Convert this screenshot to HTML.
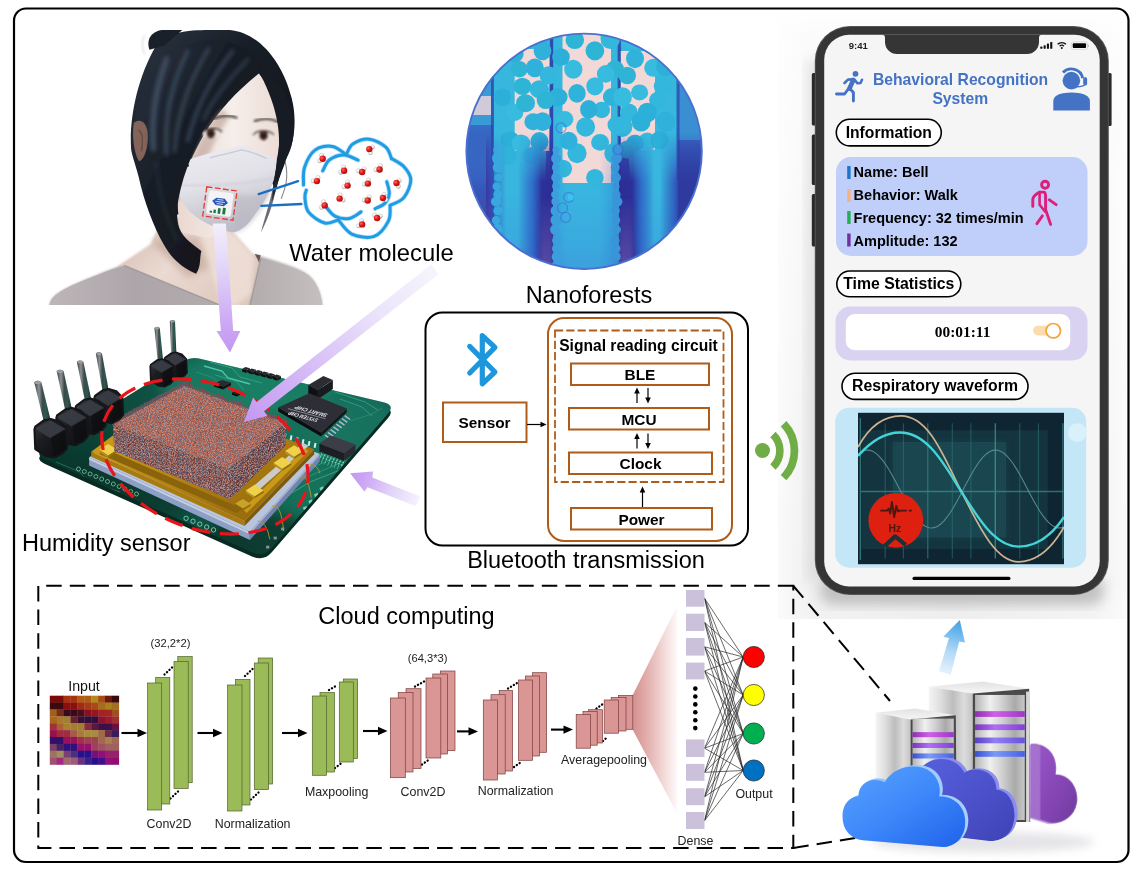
<!DOCTYPE html>
<html><head><meta charset="utf-8"><title>Figure</title>
<style>
html,body{margin:0;padding:0;background:#fff;width:1138px;height:876px;overflow:hidden}
svg{display:block}
text{font-family:"Liberation Sans",sans-serif;fill:#000}
.b{font-weight:bold}
.lbl{font-size:23.5px}
.sm{font-size:12.3px;fill:#222}
</style></head><body>
<svg width="1138" height="876" viewBox="0 0 1138 876">
<defs>
  <linearGradient id="shH" x1="0" x2="1" y1="0" y2="0">
    <stop offset="0" stop-color="#fafafa"/><stop offset="0.10" stop-color="#eeeeee"/><stop offset="0.5" stop-color="#e9e9e9"/><stop offset="0.9" stop-color="#f0f0f0"/><stop offset="1" stop-color="#fbfbfb"/>
  </linearGradient>
  <linearGradient id="shV" x1="0" x2="0" y1="0" y2="1">
    <stop offset="0" stop-color="#fff" stop-opacity="1"/><stop offset="0.05" stop-color="#fff" stop-opacity="0.75"/><stop offset="0.5" stop-color="#fff" stop-opacity="0.35"/><stop offset="0.93" stop-color="#fff" stop-opacity="0"/><stop offset="1" stop-color="#fff" stop-opacity="0.25"/>
  </linearGradient>
  <filter id="blur6" x="-20%" y="-20%" width="140%" height="140%"><feGaussianBlur stdDeviation="6"/></filter>
  <filter id="blur3" x="-20%" y="-20%" width="140%" height="140%"><feGaussianBlur stdDeviation="3"/></filter>
  <filter id="blur2" x="-20%" y="-20%" width="140%" height="140%"><feGaussianBlur stdDeviation="2"/></filter>
  <filter id="blur1" x="-20%" y="-20%" width="140%" height="140%"><feGaussianBlur stdDeviation="1"/></filter>
  <filter id="blur05" x="-20%" y="-20%" width="140%" height="140%"><feGaussianBlur stdDeviation="0.5"/></filter>
</defs>
<rect x="0" y="0" width="1138" height="876" fill="#fff"/>
<!-- phone shadow backdrop -->
<g id="phoneShadow">
  <rect x="778" y="9" width="351" height="610" fill="url(#shH)"/>
  <rect x="778" y="9" width="351" height="610" fill="url(#shV)"/>
</g>
<!-- woman with mask (approximation of rendered photo) -->
<g id="woman">
  <defs>
    <clipPath id="wClip"><rect x="20" y="0" width="1060" height="1044"/></clipPath>
    <linearGradient id="hairG" x1="0" x2="1" y1="0" y2="1"><stop offset="0" stop-color="#2c3644"/><stop offset="0.4" stop-color="#181e27"/><stop offset="1" stop-color="#0f1216"/></linearGradient>
    <linearGradient id="maskG" x1="0" x2="0.3" y1="0" y2="1"><stop offset="0" stop-color="#eeedf2"/><stop offset="0.5" stop-color="#e2e1e8"/><stop offset="1" stop-color="#bfbec8"/></linearGradient>
    <linearGradient id="skinG" x1="0" x2="1" y1="0" y2="0"><stop offset="0" stop-color="#e9d8d0"/><stop offset="0.55" stop-color="#f6eeea"/><stop offset="1" stop-color="#ecdcd5"/></linearGradient>
    <linearGradient id="chestG" x1="0" x2="1" y1="0" y2="0.6"><stop offset="0" stop-color="#d2b6aa"/><stop offset="0.5" stop-color="#eadad2"/><stop offset="1" stop-color="#dfc9be"/></linearGradient>
    <linearGradient id="garL" x1="0" x2="1" y1="0" y2="0"><stop offset="0" stop-color="#bdb6b9"/><stop offset="0.5" stop-color="#ada5a9"/><stop offset="1" stop-color="#b3acae"/></linearGradient>
    <linearGradient id="garR" x1="0" x2="1" y1="0" y2="0"><stop offset="0" stop-color="#b3acac"/><stop offset="1" stop-color="#c5bfbf"/></linearGradient>
    <filter id="wb4" x="-10%" y="-10%" width="120%" height="120%"><feGaussianBlur stdDeviation="4"/></filter><filter id="wb2" x="-10%" y="-10%" width="120%" height="120%"><feGaussianBlur stdDeviation="2.2"/></filter>
    <filter id="wb8" x="-10%" y="-10%" width="120%" height="120%"><feGaussianBlur stdDeviation="8"/></filter>
    <filter id="wb14" x="-20%" y="-20%" width="140%" height="140%"><feGaussianBlur stdDeviation="14"/></filter>
  </defs>
  <g transform="translate(40,30) scale(0.26364)" clip-path="url(#wClip)">
    <!-- garment -->
    <path d="M35 1046 C40 1014 60 999 120 969 C200 934 280 904 340 879 L480 860 L700 1046 Z" fill="url(#garL)" filter="url(#wb4)"/>
    <path d="M810 850 C900 879 980 899 1020 929 C1050 954 1068 999 1072 1046 L760 1046 Z" fill="url(#garR)" filter="url(#wb4)"/>
    <!-- chest / neck skin -->
    <path d="M300 892 L420 812 L470 700 L700 740 L742 776 L815 858 L835 864 L792 1046 L682 1046 Z" fill="url(#chestG)" filter="url(#wb4)"/>
    <path d="M600 760 L730 772 L812 862 L800 1000 L740 1046 L690 1046 Z" fill="#efe0d8" opacity="0.8" filter="url(#wb8)"/>
    <path d="M420 800 L600 780 L640 900 L560 940 Z" fill="#b89888" opacity="0.55" filter="url(#wb14)"/>
    <!-- garment collar overlay -->
    <path d="M35 1046 C40 1014 60 999 120 969 C200 934 260 912 320 893 L690 1046 Z" fill="url(#garL)"/>
    <path d="M838 865 C900 884 980 902 1020 932 C1050 957 1068 1000 1072 1046 L796 1046 Z" fill="url(#garR)"/>
    <path d="M320 893 L690 1046" stroke="#8d8588" stroke-width="5" fill="none" opacity="0.6"/>
    <path d="M838 865 L796 1046" stroke="#8d8588" stroke-width="5" fill="none" opacity="0.5"/>
    <path d="M815 850 l22 4 l-6 28 z" fill="#4a3a38" opacity="0.8"/>
    <!-- back hair -->
    <path d="M345 440 C340 330 370 180 440 60 C470 10 560 0 640 0 L720 0 C830 10 920 120 955 260 C975 340 965 420 940 470 C925 520 912 548 903 575 L893 605 L870 560 L800 700 L540 700 L470 700 C440 780 400 650 380 560 C365 500 350 470 345 440 Z" fill="url(#hairG)"/>
    <!-- bun -->
    <path d="M415 75 C400 30 430 0 470 0 L540 0 L470 60 Z" fill="#1a2029"/>
    <!-- ear -->
    <!-- face skin -->
    <path d="M520 640 C540 560 580 470 620 400 C680 300 760 220 830 165 C880 220 905 300 908 380 C910 450 898 500 885 540 L815 690 L640 790 L530 765 Z" fill="url(#skinG)"/>
    <path d="M520 640 C540 560 580 470 620 400 C640 365 660 335 690 300 L720 330 C670 400 620 500 590 640 Z" fill="#b89a90" opacity="0.55" filter="url(#wb8)"/>
    <!-- eyebrows -->
    <path d="M655 338 C690 322 720 322 745 332" stroke="#3b3433" stroke-width="9" fill="none" stroke-linecap="round" opacity="0.85" filter="url(#wb4)"/>
    <path d="M815 345 C850 333 880 335 903 350" stroke="#3b3433" stroke-width="9" fill="none" stroke-linecap="round" opacity="0.85" filter="url(#wb4)"/>
    <!-- eyes -->
    <g filter="url(#wb4)">
      <ellipse cx="652" cy="393" rx="36" ry="17" fill="#f1e4e0"/>
      <ellipse cx="846" cy="401" rx="36" ry="17" fill="#f1e4e0"/>
      <path d="M612 392 C630 370 672 368 690 388" stroke="#3a2c2a" stroke-width="6" fill="none"/>
      <path d="M808 398 C826 378 868 378 886 398" stroke="#3a2c2a" stroke-width="6" fill="none"/>
      <circle cx="648" cy="393" r="18" fill="#4a3228"/>
      <circle cx="848" cy="401" r="18" fill="#4a3228"/>
      <circle cx="648" cy="393" r="8" fill="#1e1412"/>
      <circle cx="848" cy="401" r="8" fill="#1e1412"/>
    </g>
    <!-- mask -->
    <path d="M565 492 C620 470 700 455 760 438 C800 445 850 465 897 492 C900 550 875 625 815 700 C790 740 758 766 730 768 C690 760 620 735 575 695 C535 660 515 610 530 570 C540 540 550 515 565 492 Z" fill="url(#maskG)"/>
    <path d="M530 590 C640 590 760 590 890 560" stroke="#cfced8" stroke-width="8" fill="none" opacity="0.7" filter="url(#wb4)"/>
    <path d="M645 485 C700 470 740 462 765 455 C800 462 830 472 860 488" stroke="#c8c7d0" stroke-width="5" fill="none" opacity="0.9"/>
    <path d="M740 620 C800 640 850 620 880 600 C862 655 822 712 785 746 C758 764 740 768 732 768 Z" fill="#b7b6c2" opacity="0.55" filter="url(#wb8)"/>
    <circle cx="560" cy="514" r="5" fill="#222"/>
    <!-- sensor patch on mask -->
    <g transform="rotate(8 682 660)">
      <rect x="624" y="602" width="116" height="112" fill="none" stroke="#e53a32" stroke-width="5" stroke-dasharray="22 9"/>
      <rect x="634" y="612" width="96" height="92" rx="10" fill="#f4f4f6" stroke="#d5d5da" stroke-width="2"/>
      <path d="M652 652 l14 -14 h32 l14 14 l-14 14 h-32z" fill="#2a56b8"/>
      <path d="M664 652 h36 M670 644 h24 M670 660 h24" stroke="#e9eefb" stroke-width="3"/>
      <rect x="648" y="690" width="9" height="7" fill="#1f7a3a"/>
      <rect x="662" y="684" width="9" height="13" fill="#1f7a3a"/>
      <rect x="678" y="676" width="10" height="21" fill="#1f7a3a"/>
      <rect x="696" y="672" width="11" height="25" fill="#1f7a3a"/>
    </g>
    <!-- front hair lock -->
    <path d="M345 440 C350 300 420 100 600 40 C700 20 800 60 838 140 C815 185 722 240 662 310 C612 380 576 470 545 560 C522 640 512 700 528 750 C545 795 585 815 612 838 C604 870 612 895 592 925 C545 905 500 870 470 815 C430 745 395 650 375 560 C360 500 345 470 345 440 Z" fill="url(#hairG)" filter="url(#wb2)"/>
    <!-- ear (in front of hair) -->
    <path d="M356 352 C378 334 402 348 408 384 C413 436 398 492 376 498 C356 470 348 396 356 352 Z" fill="#846358" filter="url(#wb2)"/>
    <path d="M372 380 C388 384 394 420 384 460" stroke="#5e443c" stroke-width="6" fill="none" opacity="0.7" filter="url(#wb2)"/>
    <!-- hair highlights -->
    <g fill="none" stroke="#46566c" stroke-linecap="round" opacity="0.8" filter="url(#wb8)">
      <path d="M480 110 C440 220 420 330 430 450" stroke-width="22"/>
      <path d="M560 80 C500 200 470 330 480 470" stroke-width="14"/>
      <path d="M640 70 C560 200 520 330 510 460" stroke-width="12"/>
      <path d="M730 80 C650 180 590 300 560 420" stroke-width="12"/>
      <path d="M790 110 C720 180 650 270 620 340" stroke-width="9"/>
      <path d="M440 500 C450 620 480 720 520 800" stroke-width="6" opacity="0.6"/>
    </g>
    <!-- right hair -->
    <path d="M836 140 C902 180 952 260 962 350 C967 420 947 470 927 500 C917 530 907 560 897 600 L880 650 C885 580 895 520 905 470 C912 400 905 300 836 170 Z" fill="#171c24"/>
    <path d="M900 570 C893 630 873 700 838 768 C856 700 876 640 886 585 Z" fill="#2a2f38" opacity="0.7" filter="url(#wb2)"/>
    <path d="M930 500 C945 560 930 600 915 640" stroke="#2a2f38" stroke-width="4" fill="none" opacity="0.6"/>
    <!-- soft white fringe at hair outer edge -->
    <path d="M398 20 C380 50 388 80 400 95" stroke="#c9ccd2" stroke-width="4" fill="none" opacity="0.8" filter="url(#wb4)"/>
  </g>
  <rect x="48" y="305" width="276" height="4" fill="#fff"/>
</g>
<!-- water molecule cloud -->
<g id="wcloud">
<defs><radialGradient id="redO" cx="0.35" cy="0.35" r="0.7"><stop offset="0" stop-color="#ff6a5a"/><stop offset="0.5" stop-color="#e01818"/><stop offset="1" stop-color="#a80c0c"/></radialGradient>
<radialGradient id="whH" cx="0.4" cy="0.35" r="0.7"><stop offset="0" stop-color="#ffffff"/><stop offset="0.6" stop-color="#eeeeee"/><stop offset="1" stop-color="#9a9a9a"/></radialGradient></defs>
<line x1="258.7" y1="194.1" x2="298.1" y2="181.1" stroke="#1a6fc2" stroke-width="2.3" stroke-linecap="round"/>
<line x1="261.3" y1="205.9" x2="301.4" y2="204" stroke="#1a6fc2" stroke-width="2.3" stroke-linecap="round"/>
<g fill="none" stroke="#7cc6f2" stroke-width="4.6" stroke-linecap="round" opacity="0.55" filter="url(#blur05)">
<path d="M303.5 185.0 C303.7 182.1 302.6 173.3 304.5 167.5 C306.4 161.7 310.3 153.6 315.0 150.1 C319.6 146.5 327.3 145.6 332.4 146.4 C337.6 147.1 343.8 153.2 346.0 154.5"/>
<path d="M346.4 154.5 C347.5 152.8 349.0 146.6 352.8 144.1 C356.6 141.5 363.8 138.7 369.3 139.2 C374.8 139.7 382.1 143.9 385.8 147.2 C389.5 150.4 390.6 156.9 391.6 158.8"/>
<path d="M392.0 158.8 C394.0 160.1 400.7 163.0 403.8 166.6 C407.0 170.1 410.8 175.0 410.8 180.1 C410.8 185.3 407.3 193.4 403.8 197.6 C400.4 201.8 392.4 204.1 390.1 205.4"/>
<path d="M390.1 205.4 C389.8 207.9 391.2 215.7 388.5 220.9 C385.9 226.0 380.3 234.2 374.2 236.4 C368.0 238.6 357.8 236.8 351.8 234.1 C345.9 231.3 340.5 222.3 338.3 219.9"/>
<path d="M338.3 219.9 C336.0 220.4 329.6 224.3 324.7 223.0 C319.7 221.7 311.9 216.4 308.6 212.1 C305.3 207.9 305.3 201.2 304.9 197.6 C304.5 193.9 306.0 191.5 306.3 190.2"/>
<path d="M322.7 170.8 C323.9 169.0 326.0 162.4 329.5 159.8 C333.1 157.1 339.3 154.9 344.1 154.9 C348.8 155.0 355.7 159.3 358.1 160.2"/>
<path d="M386.8 181.7 C387.2 183.7 389.6 190.1 389.3 193.7 C389.0 197.3 387.2 200.9 384.8 203.4 C382.5 205.9 376.7 207.8 375.1 208.7"/>
<path d="M326.6 207.7 C328.1 209.1 331.6 214.6 335.4 216.4 C339.1 218.2 345.1 219.1 349.3 218.4 C353.6 217.6 359.0 213.0 361.0 211.9"/>
</g>
<g fill="none" stroke="#1f9ce3" stroke-width="3" stroke-linecap="round">
<path d="M303.5 185.0 C303.7 182.1 302.6 173.3 304.5 167.5 C306.4 161.7 310.3 153.6 315.0 150.1 C319.6 146.5 327.3 145.6 332.4 146.4 C337.6 147.1 343.8 153.2 346.0 154.5"/>
<path d="M346.4 154.5 C347.5 152.8 349.0 146.6 352.8 144.1 C356.6 141.5 363.8 138.7 369.3 139.2 C374.8 139.7 382.1 143.9 385.8 147.2 C389.5 150.4 390.6 156.9 391.6 158.8"/>
<path d="M392.0 158.8 C394.0 160.1 400.7 163.0 403.8 166.6 C407.0 170.1 410.8 175.0 410.8 180.1 C410.8 185.3 407.3 193.4 403.8 197.6 C400.4 201.8 392.4 204.1 390.1 205.4"/>
<path d="M390.1 205.4 C389.8 207.9 391.2 215.7 388.5 220.9 C385.9 226.0 380.3 234.2 374.2 236.4 C368.0 238.6 357.8 236.8 351.8 234.1 C345.9 231.3 340.5 222.3 338.3 219.9"/>
<path d="M338.3 219.9 C336.0 220.4 329.6 224.3 324.7 223.0 C319.7 221.7 311.9 216.4 308.6 212.1 C305.3 207.9 305.3 201.2 304.9 197.6 C304.5 193.9 306.0 191.5 306.3 190.2"/>
<path d="M322.7 170.8 C323.9 169.0 326.0 162.4 329.5 159.8 C333.1 157.1 339.3 154.9 344.1 154.9 C348.8 155.0 355.7 159.3 358.1 160.2"/>
<path d="M386.8 181.7 C387.2 183.7 389.6 190.1 389.3 193.7 C389.0 197.3 387.2 200.9 384.8 203.4 C382.5 205.9 376.7 207.8 375.1 208.7"/>
<path d="M326.6 207.7 C328.1 209.1 331.6 214.6 335.4 216.4 C339.1 218.2 345.1 219.1 349.3 218.4 C353.6 217.6 359.0 213.0 361.0 211.9"/>
</g>
<circle cx="319.6" cy="160.8" r="2.2" fill="url(#whH)" stroke="#8a8a8a" stroke-width="0.25"/>
<circle cx="321.6" cy="155.3" r="2.2" fill="url(#whH)" stroke="#8a8a8a" stroke-width="0.25"/>
<circle cx="322.7" cy="158.8" r="3.2" fill="url(#redO)"/>
<circle cx="372.4" cy="147.1" r="2.2" fill="url(#whH)" stroke="#8a8a8a" stroke-width="0.25"/>
<circle cx="370.4" cy="152.6" r="2.2" fill="url(#whH)" stroke="#8a8a8a" stroke-width="0.25"/>
<circle cx="369.3" cy="149.1" r="3.2" fill="url(#redO)"/>
<circle cx="340.7" cy="172.2" r="2.2" fill="url(#whH)" stroke="#8a8a8a" stroke-width="0.25"/>
<circle cx="343.6" cy="167.2" r="2.2" fill="url(#whH)" stroke="#8a8a8a" stroke-width="0.25"/>
<circle cx="344.1" cy="170.8" r="3.2" fill="url(#redO)"/>
<circle cx="358.6" cy="170.8" r="2.2" fill="url(#whH)" stroke="#8a8a8a" stroke-width="0.25"/>
<circle cx="364.1" cy="168.9" r="2.2" fill="url(#whH)" stroke="#8a8a8a" stroke-width="0.25"/>
<circle cx="362.1" cy="172.0" r="3.2" fill="url(#redO)"/>
<circle cx="375.9" cy="169.6" r="2.2" fill="url(#whH)" stroke="#8a8a8a" stroke-width="0.25"/>
<circle cx="380.4" cy="165.8" r="2.2" fill="url(#whH)" stroke="#8a8a8a" stroke-width="0.25"/>
<circle cx="379.6" cy="169.5" r="3.2" fill="url(#redO)"/>
<circle cx="313.2" cy="180.9" r="2.2" fill="url(#whH)" stroke="#8a8a8a" stroke-width="0.25"/>
<circle cx="318.0" cy="177.6" r="2.2" fill="url(#whH)" stroke="#8a8a8a" stroke-width="0.25"/>
<circle cx="316.9" cy="181.1" r="3.2" fill="url(#redO)"/>
<circle cx="344.0" cy="186.6" r="2.2" fill="url(#whH)" stroke="#8a8a8a" stroke-width="0.25"/>
<circle cx="347.4" cy="181.9" r="2.2" fill="url(#whH)" stroke="#8a8a8a" stroke-width="0.25"/>
<circle cx="347.6" cy="185.6" r="3.2" fill="url(#redO)"/>
<circle cx="364.3" cy="184.1" r="2.2" fill="url(#whH)" stroke="#8a8a8a" stroke-width="0.25"/>
<circle cx="368.4" cy="180.0" r="2.2" fill="url(#whH)" stroke="#8a8a8a" stroke-width="0.25"/>
<circle cx="367.9" cy="183.6" r="3.2" fill="url(#redO)"/>
<circle cx="399.2" cy="180.6" r="2.2" fill="url(#whH)" stroke="#8a8a8a" stroke-width="0.25"/>
<circle cx="398.2" cy="186.3" r="2.2" fill="url(#whH)" stroke="#8a8a8a" stroke-width="0.25"/>
<circle cx="396.5" cy="183.0" r="3.2" fill="url(#redO)"/>
<circle cx="340.1" cy="194.9" r="2.2" fill="url(#whH)" stroke="#8a8a8a" stroke-width="0.25"/>
<circle cx="343.1" cy="200.0" r="2.2" fill="url(#whH)" stroke="#8a8a8a" stroke-width="0.25"/>
<circle cx="339.6" cy="198.6" r="3.2" fill="url(#redO)"/>
<circle cx="364.1" cy="200.0" r="2.2" fill="url(#whH)" stroke="#8a8a8a" stroke-width="0.25"/>
<circle cx="369.1" cy="197.1" r="2.2" fill="url(#whH)" stroke="#8a8a8a" stroke-width="0.25"/>
<circle cx="367.7" cy="200.5" r="3.2" fill="url(#redO)"/>
<circle cx="384.0" cy="194.5" r="2.2" fill="url(#whH)" stroke="#8a8a8a" stroke-width="0.25"/>
<circle cx="386.0" cy="199.9" r="2.2" fill="url(#whH)" stroke="#8a8a8a" stroke-width="0.25"/>
<circle cx="382.9" cy="198.0" r="3.2" fill="url(#redO)"/>
<circle cx="321.5" cy="207.3" r="2.2" fill="url(#whH)" stroke="#8a8a8a" stroke-width="0.25"/>
<circle cx="323.5" cy="201.8" r="2.2" fill="url(#whH)" stroke="#8a8a8a" stroke-width="0.25"/>
<circle cx="324.7" cy="205.4" r="3.2" fill="url(#redO)"/>
<circle cx="374.6" cy="215.2" r="2.2" fill="url(#whH)" stroke="#8a8a8a" stroke-width="0.25"/>
<circle cx="380.3" cy="216.2" r="2.2" fill="url(#whH)" stroke="#8a8a8a" stroke-width="0.25"/>
<circle cx="377.1" cy="218.0" r="3.2" fill="url(#redO)"/>
<circle cx="358.7" cy="225.8" r="2.2" fill="url(#whH)" stroke="#8a8a8a" stroke-width="0.25"/>
<circle cx="361.6" cy="220.7" r="2.2" fill="url(#whH)" stroke="#8a8a8a" stroke-width="0.25"/>
<circle cx="362.1" cy="224.4" r="3.2" fill="url(#redO)"/>
<text x="371.5" y="261.2" text-anchor="middle" class="lbl" style="font-size:23.8px">Water molecule</text>
</g>
<!-- nanoforests circle -->
<g id="nano">
<defs>
<clipPath id="nanoClip"><circle cx="584.1" cy="151.3" r="117.6"/></clipPath>
<linearGradient id="nbg" x1="0" x2="0" y1="0" y2="1"><stop offset="0" stop-color="#3d93d8"/><stop offset="0.3" stop-color="#3a7ccf"/><stop offset="0.5" stop-color="#3558bb"/><stop offset="0.75" stop-color="#4044a4"/><stop offset="1" stop-color="#5c4ca6"/></linearGradient>
<linearGradient id="npil" x1="0" x2="0" y1="0" y2="1"><stop offset="0" stop-color="#37b7dd"/><stop offset="0.65" stop-color="#38b6e0"/><stop offset="0.88" stop-color="#3aaade"/><stop offset="1" stop-color="#3d9edc"/></linearGradient>
<linearGradient id="npilS" x1="0" x2="1" y1="0" y2="0"><stop offset="0" stop-color="#2a58c0" stop-opacity="0.25"/><stop offset="0.2" stop-color="#2a58c0" stop-opacity="0"/><stop offset="0.7" stop-color="#2a58c0" stop-opacity="0"/><stop offset="1" stop-color="#2a46b0" stop-opacity="0.4"/></linearGradient>
<linearGradient id="ngap" x1="0" x2="0" y1="0" y2="1"><stop offset="0" stop-color="#2a3aa2" stop-opacity="0"/><stop offset="0.25" stop-color="#2b2f98" stop-opacity="0.95"/><stop offset="0.6" stop-color="#3a3a9e"/><stop offset="1" stop-color="#5a4aa4"/></linearGradient>
</defs>
<g clip-path="url(#nanoClip)">
<rect x="460" y="30" width="250" height="245" fill="url(#nbg)"/>
<rect x="462" y="30" width="31" height="95" fill="#3a9ad6"/>
<rect x="470" y="96" width="21" height="19" fill="#ecd2d8" opacity="0.85"/>
<rect x="678" y="30" width="30" height="110" fill="#3a8ed2"/>
<path d="M493 30 L551.5 30 L541 272 L493 272Z" fill="url(#npil)"/>
<path d="M553 30 L619 30 L619 272 L553 272Z" fill="url(#npil)"/>
<path d="M620 30 L678 30 L678 272 L636.5 272Z" fill="url(#npil)"/>
<rect x="549.8" y="30" width="3.4" height="150" fill="#2a3fa8" opacity="0.85"/>
<rect x="617.6" y="30" width="3.2" height="150" fill="#2a3fa8" opacity="0.8"/>
<rect x="491" y="60" width="3" height="120" fill="#2a3fa8" opacity="0.7"/>
<rect x="676.5" y="60" width="3" height="120" fill="#2a3fa8" opacity="0.7"/>
<rect x="514.7" y="49" width="34.6" height="102.0" fill="#f3d8d8"/>
<rect x="562.5" y="33" width="48.5" height="150.0" fill="#f3d8d8"/>
<rect x="620.8" y="51" width="34.2" height="98.5" fill="#f3d8d8"/>
<ellipse cx="574.8" cy="40.0" rx="9.3" ry="9.1" fill="#2eb5d6" opacity="1"/>
<ellipse cx="594.9" cy="50.8" rx="9.4" ry="9.6" fill="#2eb5d6" opacity="1"/>
<ellipse cx="573.3" cy="69.3" rx="9.1" ry="9.5" fill="#37bbdf" opacity="1"/>
<ellipse cx="577.0" cy="93.4" rx="8.7" ry="9.3" fill="#2fb3da" opacity="1"/>
<ellipse cx="594.9" cy="86.3" rx="8.6" ry="9.1" fill="#37bbdf" opacity="1"/>
<ellipse cx="611.8" cy="97.1" rx="8.9" ry="9.0" fill="#2fb3da" opacity="1"/>
<ellipse cx="601.7" cy="110.0" rx="8.4" ry="8.3" fill="#33b7dc" opacity="1"/>
<ellipse cx="564.7" cy="119.3" rx="8.7" ry="8.2" fill="#37bbdf" opacity="1"/>
<ellipse cx="585.6" cy="127.0" rx="9.5" ry="9.7" fill="#33b7dc" opacity="1"/>
<ellipse cx="600.1" cy="142.4" rx="9.0" ry="8.3" fill="#33b7dc" opacity="1"/>
<ellipse cx="577.0" cy="153.2" rx="9.6" ry="10.0" fill="#33b7dc" opacity="1"/>
<ellipse cx="614.0" cy="153.2" rx="9.7" ry="10.3" fill="#33b7dc" opacity="1"/>
<ellipse cx="594.9" cy="177.8" rx="8.8" ry="8.9" fill="#33b7dc" opacity="1"/>
<ellipse cx="562.8" cy="168.6" rx="9.3" ry="8.9" fill="#33b7dc" opacity="1"/>
<ellipse cx="610.3" cy="38.5" rx="9.8" ry="10.5" fill="#33b7dc" opacity="1"/>
<ellipse cx="557.9" cy="97.1" rx="9.7" ry="8.9" fill="#2cafd8" opacity="1"/>
<ellipse cx="616.5" cy="124.8" rx="9.0" ry="8.6" fill="#33b7dc" opacity="1"/>
<ellipse cx="568.7" cy="140.8" rx="8.9" ry="9.0" fill="#30b1dc" opacity="1"/>
<ellipse cx="614.9" cy="69.3" rx="9.2" ry="9.0" fill="#2eb5d6" opacity="1"/>
<ellipse cx="561.0" cy="57.0" rx="8.8" ry="8.8" fill="#2cafd8" opacity="1"/>
<ellipse cx="605.7" cy="73.9" rx="8.8" ry="8.8" fill="#37bbdf" opacity="1"/>
<ellipse cx="588.7" cy="109.4" rx="8.6" ry="9.3" fill="#2cafd8" opacity="1"/>
<ellipse cx="519.4" cy="69.3" rx="8.4" ry="8.2" fill="#2eb5d6" opacity="1"/>
<ellipse cx="534.8" cy="67.8" rx="9.0" ry="9.4" fill="#30b1dc" opacity="1"/>
<ellipse cx="542.5" cy="50.8" rx="8.9" ry="9.4" fill="#30b1dc" opacity="1"/>
<ellipse cx="522.4" cy="86.3" rx="9.0" ry="8.6" fill="#2eb5d6" opacity="1"/>
<ellipse cx="539.4" cy="89.4" rx="9.7" ry="9.1" fill="#33b7dc" opacity="1"/>
<ellipse cx="514.7" cy="112.5" rx="8.7" ry="8.5" fill="#37bbdf" opacity="1"/>
<ellipse cx="533.2" cy="121.7" rx="8.9" ry="8.5" fill="#30b1dc" opacity="1"/>
<ellipse cx="542.5" cy="121.7" rx="9.0" ry="9.4" fill="#30b1dc" opacity="1"/>
<ellipse cx="510.1" cy="140.2" rx="9.5" ry="8.8" fill="#2cafd8" opacity="1"/>
<ellipse cx="507.0" cy="155.6" rx="9.7" ry="9.3" fill="#2fb3da" opacity="1"/>
<ellipse cx="539.4" cy="141.8" rx="9.1" ry="9.7" fill="#2cafd8" opacity="1"/>
<ellipse cx="545.6" cy="100.1" rx="8.9" ry="8.9" fill="#2eb5d6" opacity="1"/>
<ellipse cx="502.4" cy="97.1" rx="8.8" ry="8.6" fill="#2cafd8" opacity="1"/>
<ellipse cx="525.5" cy="103.2" rx="9.5" ry="9.0" fill="#2eb5d6" opacity="1"/>
<ellipse cx="520.9" cy="143.3" rx="9.4" ry="8.9" fill="#37bbdf" opacity="1"/>
<ellipse cx="531.7" cy="155.6" rx="8.5" ry="8.5" fill="#30b1dc" opacity="1"/>
<ellipse cx="548.6" cy="75.5" rx="9.0" ry="9.3" fill="#33b7dc" opacity="1"/>
<ellipse cx="514.7" cy="53.9" rx="8.9" ry="8.8" fill="#2cafd8" opacity="1"/>
<ellipse cx="635.0" cy="58.5" rx="9.0" ry="9.7" fill="#2fb3da" opacity="1"/>
<ellipse cx="653.5" cy="67.8" rx="9.3" ry="9.0" fill="#37bbdf" opacity="1"/>
<ellipse cx="627.3" cy="75.5" rx="8.7" ry="8.8" fill="#2eb5d6" opacity="1"/>
<ellipse cx="639.6" cy="92.4" rx="8.6" ry="8.0" fill="#37bbdf" opacity="1"/>
<ellipse cx="658.1" cy="100.1" rx="9.0" ry="8.4" fill="#33b7dc" opacity="1"/>
<ellipse cx="628.8" cy="112.5" rx="9.0" ry="8.9" fill="#33b7dc" opacity="1"/>
<ellipse cx="622.6" cy="126.4" rx="9.8" ry="10.5" fill="#33b7dc" opacity="1"/>
<ellipse cx="647.3" cy="141.8" rx="9.0" ry="9.3" fill="#37bbdf" opacity="1"/>
<ellipse cx="635.0" cy="143.3" rx="8.8" ry="8.5" fill="#2cafd8" opacity="1"/>
<ellipse cx="662.7" cy="86.3" rx="9.0" ry="8.4" fill="#33b7dc" opacity="1"/>
<ellipse cx="665.8" cy="121.7" rx="9.6" ry="10.3" fill="#30b1dc" opacity="1"/>
<ellipse cx="622.6" cy="97.1" rx="9.3" ry="9.8" fill="#37bbdf" opacity="1"/>
<ellipse cx="630.3" cy="38.5" rx="8.7" ry="8.3" fill="#37bbdf" opacity="1"/>
<ellipse cx="647.3" cy="38.5" rx="9.5" ry="9.3" fill="#30b1dc" opacity="1"/>
<ellipse cx="647.3" cy="112.5" rx="9.5" ry="9.8" fill="#2cafd8" opacity="1"/>
<ellipse cx="659.6" cy="140.2" rx="9.3" ry="9.1" fill="#2cafd8" opacity="1"/>
<ellipse cx="641.1" cy="121.7" rx="9.4" ry="9.9" fill="#2cafd8" opacity="1"/>
<ellipse cx="627.3" cy="149.5" rx="8.8" ry="9.1" fill="#2eb5d6" opacity="1"/>
<ellipse cx="665.8" cy="66.2" rx="9.7" ry="10.0" fill="#2cafd8" opacity="1"/>
<defs>
<linearGradient id="vfade" x1="0" x2="0" y1="0" y2="1"><stop offset="0" stop-color="#000"/><stop offset="0.42" stop-color="#000"/><stop offset="0.62" stop-color="#fff"/><stop offset="1" stop-color="#fff"/></linearGradient>
<mask id="lowerMask" maskUnits="userSpaceOnUse" x="455" y="30" width="260" height="245"><rect x="455" y="30" width="260" height="245" fill="url(#vfade)"/></mask>
<linearGradient id="dz1" gradientUnits="userSpaceOnUse" x1="518" x2="553" y1="0" y2="0"><stop offset="0" stop-color="#2b4ab8" stop-opacity="0"/><stop offset="0.4" stop-color="#2c52c2" stop-opacity="0.7"/><stop offset="0.68" stop-color="#2c3098"/><stop offset="1" stop-color="#2c2e96"/></linearGradient>
<linearGradient id="dz2" gradientUnits="userSpaceOnUse" x1="619" x2="654" y1="0" y2="0"><stop offset="0" stop-color="#2c2e96"/><stop offset="0.38" stop-color="#2c3098"/><stop offset="0.65" stop-color="#2c52c2" stop-opacity="0.7"/><stop offset="1" stop-color="#2b3aa8" stop-opacity="0"/></linearGradient>
<linearGradient id="dz3" gradientUnits="userSpaceOnUse" x1="660" x2="682" y1="0" y2="0"><stop offset="0" stop-color="#2b3aa8" stop-opacity="0"/><stop offset="0.6" stop-color="#2c48b8" stop-opacity="0.7"/><stop offset="1" stop-color="#2c3098"/></linearGradient>
<linearGradient id="dz0" gradientUnits="userSpaceOnUse" x1="486" x2="506" y1="0" y2="0"><stop offset="0" stop-color="#3a3a9e"/><stop offset="0.35" stop-color="#2c48b8" stop-opacity="0.6"/><stop offset="1" stop-color="#2b3aa8" stop-opacity="0"/></linearGradient>
<linearGradient id="violetV" x1="0" x2="0" y1="0" y2="1"><stop offset="0" stop-color="#5a4aa4" stop-opacity="0"/><stop offset="0.55" stop-color="#5a4aa4" stop-opacity="0"/><stop offset="0.85" stop-color="#5a4aa4" stop-opacity="0.75"/><stop offset="1" stop-color="#6452a8" stop-opacity="0.85"/></linearGradient>
<linearGradient id="cpil" gradientUnits="userSpaceOnUse" x1="553" x2="619" y1="0" y2="0"><stop offset="0" stop-color="#2f80d4" stop-opacity="0.3"/><stop offset="0.2" stop-color="#2f80d4" stop-opacity="0"/><stop offset="0.7" stop-color="#2f80d4" stop-opacity="0"/><stop offset="1" stop-color="#3070d0" stop-opacity="0.45"/></linearGradient>
</defs>
<g mask="url(#lowerMask)">
<rect x="462" y="100" width="32" height="175" fill="url(#nbg)"/>
<rect x="486" y="100" width="20" height="175" fill="url(#dz0)"/>
<rect x="518" y="100" width="35" height="175" fill="url(#dz1)"/>
<rect x="619" y="100" width="35" height="175" fill="url(#dz2)"/>
<rect x="660" y="100" width="22" height="175" fill="url(#dz3)"/>
<rect x="678" y="100" width="30" height="175" fill="#2e3a9e"/>
<rect x="553" y="100" width="66" height="175" fill="url(#cpil)"/>
<rect x="540" y="100" width="13" height="175" fill="url(#violetV)" filter="url(#blur2)"/>
<rect x="619" y="100" width="14" height="175" fill="url(#violetV)" filter="url(#blur2)"/>
<rect x="462" y="100" width="30" height="175" fill="url(#violetV)"/>
</g>
<ellipse cx="556.0" cy="150.0" rx="3.5" ry="3.5" fill="#3a9fdc" opacity="1"/>
<ellipse cx="616.9" cy="150.0" rx="4.8" ry="4.8" fill="#3a94d8" opacity="1"/>
<ellipse cx="498.5" cy="150.0" rx="5.3" ry="5.5" fill="#38a8de" opacity="1"/>
<ellipse cx="556.1" cy="158.4" rx="5.0" ry="5.2" fill="#3a9fdc" opacity="1"/>
<ellipse cx="616.6" cy="158.4" rx="5.2" ry="5.5" fill="#3a94d8" opacity="1"/>
<ellipse cx="498.1" cy="158.4" rx="6.0" ry="6.4" fill="#38a8de" opacity="1"/>
<ellipse cx="555.8" cy="167.5" rx="3.8" ry="4.0" fill="#3a9fdc" opacity="1"/>
<ellipse cx="615.2" cy="167.5" rx="4.5" ry="4.6" fill="#3a94d8" opacity="1"/>
<ellipse cx="498.2" cy="167.5" rx="5.5" ry="5.2" fill="#38a8de" opacity="1"/>
<ellipse cx="556.0" cy="177.6" rx="4.8" ry="4.8" fill="#3a9fdc" opacity="1"/>
<ellipse cx="615.9" cy="177.6" rx="5.0" ry="5.2" fill="#3a94d8" opacity="1"/>
<ellipse cx="498.2" cy="177.6" rx="4.1" ry="3.8" fill="#38a8de" opacity="1"/>
<ellipse cx="556.1" cy="186.3" rx="3.9" ry="4.1" fill="#3a9fdc" opacity="1"/>
<ellipse cx="615.9" cy="186.3" rx="3.6" ry="3.6" fill="#3a94d8" opacity="1"/>
<ellipse cx="496.7" cy="186.3" rx="4.1" ry="3.9" fill="#38a8de" opacity="1"/>
<ellipse cx="555.0" cy="194.6" rx="3.9" ry="3.6" fill="#3a9fdc" opacity="1"/>
<ellipse cx="616.3" cy="194.6" rx="4.3" ry="4.3" fill="#3a94d8" opacity="1"/>
<ellipse cx="497.8" cy="194.6" rx="4.5" ry="4.8" fill="#38a8de" opacity="1"/>
<ellipse cx="555.5" cy="201.6" rx="4.1" ry="4.0" fill="#3a9fdc" opacity="1"/>
<ellipse cx="617.2" cy="201.6" rx="5.2" ry="5.1" fill="#3a94d8" opacity="1"/>
<ellipse cx="496.1" cy="201.6" rx="5.2" ry="4.9" fill="#38a8de" opacity="1"/>
<ellipse cx="555.3" cy="210.8" rx="4.7" ry="5.0" fill="#3a9fdc" opacity="1"/>
<ellipse cx="615.5" cy="210.8" rx="4.3" ry="4.6" fill="#3a94d8" opacity="1"/>
<ellipse cx="497.9" cy="210.8" rx="4.7" ry="4.5" fill="#38a8de" opacity="1"/>
<ellipse cx="555.9" cy="220.2" rx="5.4" ry="5.8" fill="#3a9fdc" opacity="1"/>
<ellipse cx="616.0" cy="220.2" rx="4.2" ry="4.5" fill="#3a94d8" opacity="1"/>
<ellipse cx="496.0" cy="220.2" rx="4.2" ry="4.3" fill="#38a8de" opacity="1"/>
<ellipse cx="554.9" cy="229.6" rx="4.8" ry="5.1" fill="#3a9fdc" opacity="1"/>
<ellipse cx="616.6" cy="229.6" rx="4.4" ry="4.2" fill="#3a94d8" opacity="1"/>
<ellipse cx="496.9" cy="229.6" rx="5.9" ry="5.8" fill="#38a8de" opacity="1"/>
<ellipse cx="556.8" cy="240.5" rx="4.7" ry="4.5" fill="#3a9fdc" opacity="1"/>
<ellipse cx="615.0" cy="240.5" rx="4.5" ry="4.4" fill="#3a94d8" opacity="1"/>
<ellipse cx="497.0" cy="240.5" rx="6.0" ry="6.0" fill="#38a8de" opacity="1"/>
<ellipse cx="555.7" cy="248.6" rx="3.7" ry="3.8" fill="#3a9fdc" opacity="1"/>
<ellipse cx="616.4" cy="248.6" rx="4.1" ry="4.3" fill="#3a94d8" opacity="1"/>
<ellipse cx="498.5" cy="248.6" rx="4.0" ry="4.0" fill="#38a8de" opacity="1"/>
<ellipse cx="556.8" cy="256.7" rx="5.1" ry="4.9" fill="#3a9fdc" opacity="1"/>
<ellipse cx="616.8" cy="256.7" rx="3.8" ry="4.1" fill="#3a94d8" opacity="1"/>
<ellipse cx="496.9" cy="256.7" rx="5.2" ry="5.2" fill="#38a8de" opacity="1"/>
<ellipse cx="556.0" cy="266.3" rx="5.0" ry="4.7" fill="#3a9fdc" opacity="1"/>
<ellipse cx="615.6" cy="266.3" rx="4.1" ry="4.1" fill="#3a94d8" opacity="1"/>
<ellipse cx="497.0" cy="266.3" rx="4.6" ry="4.6" fill="#38a8de" opacity="1"/>
<circle cx="568.7" cy="197.3" r="5" fill="none" stroke="#3f63d8" stroke-width="1.1" opacity="0.6"/>
<circle cx="562.5" cy="208.0" r="5" fill="none" stroke="#3f63d8" stroke-width="1.1" opacity="0.6"/>
<circle cx="565.6" cy="217.3" r="5" fill="none" stroke="#3f63d8" stroke-width="1.1" opacity="0.6"/>
<circle cx="561.0" cy="127.9" r="5" fill="none" stroke="#3f63d8" stroke-width="1.1" opacity="0.6"/>
<circle cx="618.0" cy="149.5" r="5" fill="none" stroke="#3f63d8" stroke-width="1.1" opacity="0.6"/>
<circle cx="570.8" cy="197.3" r="3" fill="#36c8f6" opacity="0.9"/>
</g>
<circle cx="584.1" cy="151.3" r="117.7" fill="none" stroke="#4a70cf" stroke-width="1.9"/>
<text x="589" y="303.3" text-anchor="middle" class="lbl">Nanoforests</text>
</g>
<!-- humidity sensor PCB -->
<g id="pcb">
<defs>
<linearGradient id="pcbG" gradientUnits="userSpaceOnUse" x1="60" y1="500" x2="360" y2="370"><stop offset="0" stop-color="#09362b"/><stop offset="0.35" stop-color="#0e4f41"/><stop offset="0.7" stop-color="#16725b"/><stop offset="1" stop-color="#146556"/></linearGradient>
<linearGradient id="pinG" x1="0" x2="1" y1="0" y2="0"><stop offset="0" stop-color="#3a3e41"/><stop offset="0.28" stop-color="#8e9295"/><stop offset="0.5" stop-color="#3a4a48"/><stop offset="0.7" stop-color="#2d5a50"/><stop offset="1" stop-color="#1f2828"/></linearGradient>
<linearGradient id="housG" x1="0" x2="1" y1="0" y2="1"><stop offset="0" stop-color="#3a3d44"/><stop offset="0.4" stop-color="#1b1c20"/><stop offset="1" stop-color="#0c0c0e"/></linearGradient>
<linearGradient id="goldG" x1="0" x2="1" y1="0" y2="1"><stop offset="0" stop-color="#d9a91e"/><stop offset="0.5" stop-color="#b78512"/><stop offset="1" stop-color="#8a600a"/></linearGradient>
<pattern id="nfTop" width="9" height="7" patternUnits="userSpaceOnUse" patternTransform="rotate(-18)">
  <rect width="9" height="7" fill="#a55545"/>
  <circle cx="1.5" cy="1.6" r="1.15" fill="#5e6270"/><circle cx="6" cy="1.4" r="1.1" fill="#666a78"/>
  <circle cx="3.8" cy="5" r="1.15" fill="#5a5e6c"/><circle cx="8.2" cy="5.2" r="1.05" fill="#62667a"/>
  <circle cx="3.6" cy="2.2" r="0.7" fill="#e66a3c"/><circle cx="7.9" cy="2.4" r="0.65" fill="#e0582e"/>
  <circle cx="1.4" cy="4.6" r="0.7" fill="#e8703e"/><circle cx="6" cy="4.3" r="0.65" fill="#d95030"/>
  <circle cx="5" cy="6.4" r="0.55" fill="#f08048"/><circle cx="0.4" cy="6.6" r="0.5" fill="#d85a34"/>
</pattern>
<pattern id="nfSide" width="5.4" height="9" patternUnits="userSpaceOnUse">
  <rect width="5.4" height="9" fill="#7a3f38"/>
  <rect x="0.6" y="0" width="2.6" height="9" fill="#5a5e6c"/>
  <circle cx="1" cy="1.4" r="0.75" fill="#e0603a"/><circle cx="3" cy="3.6" r="0.7" fill="#e66a3c"/>
  <circle cx="1.2" cy="5.8" r="0.7" fill="#d85030"/><circle cx="3.1" cy="7.8" r="0.75" fill="#e8703e"/>
  <circle cx="4.6" cy="2.4" r="0.6" fill="#c94a30"/><circle cx="4.5" cy="6.6" r="0.6" fill="#d95a34"/>
</pattern>
<filter id="nfNoise" x="0" y="0" width="100%" height="100%"><feTurbulence type="fractalNoise" baseFrequency="0.85" numOctaves="2" seed="4" result="n"/><feColorMatrix in="n" type="matrix" values="0 0 0 0 0.30  0 0 0 0 0.31  0 0 0 0 0.40  2.4 1.8 0 0 -1.9"/></filter>
<filter id="nfNoise2" x="0" y="0" width="100%" height="100%"><feTurbulence type="fractalNoise" baseFrequency="0.95" numOctaves="2" seed="9" result="n"/><feColorMatrix in="n" type="matrix" values="0 0 0 0 0.86  0 0 0 0 0.30  0 0 0 0 0.18  0 2.2 2.2 0 -2.2"/></filter>
<clipPath id="nfClip"><polygon points="112.8,423.9 184.0,385.4 286.3,422.8 285.3,445.8 229.8,499.2 114.3,450.9"/></clipPath>
<clipPath id="pcbClip"><path id="pcbTopPath" d="M199 358.5 Q191 356.6 184 361 L44 448 Q34 454.5 45 459.5 L252 552 Q264 557 272 547.5 L388 413.5 Q395 405.5 384.5 402.5 Z"/></clipPath>
</defs>
<path d="M199 358.5 Q191 356.6 184 361 L44 448 Q34 454.5 45 459.5 L252 552 Q264 557 272 547.5 L388 413.5 Q395 405.5 384.5 402.5 Z" transform="translate(0,4.5)" fill="#072a22"/>
<use href="#pcbTopPath" fill="url(#pcbG)"/>
<g clip-path="url(#pcbClip)">
<ellipse cx="250" cy="385" rx="90" ry="30" fill="#1f8a6e" opacity="0.55" filter="url(#blur6)"/>
<ellipse cx="110" cy="490" rx="90" ry="35" fill="#093529" opacity="0.6" filter="url(#blur6)"/>
<ellipse cx="350" cy="425" rx="45" ry="30" fill="#1b7c66" opacity="0.5" filter="url(#blur6)"/>
<ellipse cx="262" cy="540" rx="55" ry="26" fill="#072a21" opacity="0.65" filter="url(#blur6)"/>
<polyline points="204.0,366.0 222.0,371.0 228.0,378.0 250.0,384.0" fill="none" stroke="#5fe0c0" stroke-width="1.3" opacity="0.75"/>
<polyline points="210.0,362.0 232.0,368.0 240.0,377.0 262.0,383.0" fill="none" stroke="#3fb598" stroke-width="0.8" opacity="0.75"/>
<polyline points="215.0,375.0 236.0,381.0 244.0,390.0" fill="none" stroke="#3fb598" stroke-width="0.8" opacity="0.75"/>
<polyline points="196.0,372.0 214.0,378.0 220.0,386.0 240.0,392.0" fill="none" stroke="#2f9f84" stroke-width="0.8" opacity="0.75"/>
<polyline points="335.0,392.0 365.0,402.0 378.0,410.0" fill="none" stroke="#3fb598" stroke-width="0.8" opacity="0.75"/>
<polyline points="340.0,399.0 362.0,407.0 372.0,416.0" fill="none" stroke="#3fb598" stroke-width="0.8" opacity="0.75"/>
<polyline points="350.0,421.0 372.0,414.0 382.0,408.0" fill="none" stroke="#2f9f84" stroke-width="0.7" opacity="0.75"/>
<polyline points="60.0,470.0 90.0,483.0 120.0,492.0" fill="none" stroke="#2f9f84" stroke-width="0.8" opacity="0.75"/>
<polyline points="56.0,462.0 80.0,472.0 86.0,480.0 110.0,490.0" fill="none" stroke="#2a8f78" stroke-width="0.8" opacity="0.75"/>
<polyline points="300.0,470.0 318.0,458.0 330.0,452.0" fill="none" stroke="#3fb598" stroke-width="0.7" opacity="0.75"/>
<polyline points="296.0,478.0 316.0,466.0 334.0,458.0" fill="none" stroke="#3fb598" stroke-width="0.7" opacity="0.75"/>
<polyline points="292.0,486.0 314.0,474.0 338.0,464.0" fill="none" stroke="#3fb598" stroke-width="0.7" opacity="0.75"/>
<polyline points="290.0,494.0 310.0,482.0 340.0,470.0" fill="none" stroke="#58d0b0" stroke-width="0.7" opacity="0.75"/>
<polyline points="322.0,452.0 318.0,462.0" fill="none" stroke="#7ae0c0" stroke-width="0.7" opacity="0.8"/>
<polyline points="325.2,453.2 321.2,463.2" fill="none" stroke="#7ae0c0" stroke-width="0.7" opacity="0.8"/>
<polyline points="328.4,454.4 324.4,464.4" fill="none" stroke="#7ae0c0" stroke-width="0.7" opacity="0.8"/>
<polyline points="331.6,455.6 327.6,465.6" fill="none" stroke="#7ae0c0" stroke-width="0.7" opacity="0.8"/>
<polyline points="334.8,456.8 330.8,466.8" fill="none" stroke="#7ae0c0" stroke-width="0.7" opacity="0.8"/>
<polyline points="338.0,458.0 334.0,468.0" fill="none" stroke="#7ae0c0" stroke-width="0.7" opacity="0.8"/>
<polyline points="341.2,459.2 337.2,469.2" fill="none" stroke="#7ae0c0" stroke-width="0.7" opacity="0.8"/>
<polyline points="344.4,460.4 340.4,470.4" fill="none" stroke="#7ae0c0" stroke-width="0.7" opacity="0.8"/>
<circle cx="78.5" cy="469.0" r="2" fill="none" stroke="#7fcfb0" stroke-width="0.9" opacity="0.85"/>
<circle cx="84.3" cy="471.5" r="2" fill="none" stroke="#7fcfb0" stroke-width="0.9" opacity="0.85"/>
<circle cx="90.1" cy="474.0" r="2" fill="none" stroke="#7fcfb0" stroke-width="0.9" opacity="0.85"/>
<circle cx="95.9" cy="476.5" r="2" fill="none" stroke="#7fcfb0" stroke-width="0.9" opacity="0.85"/>
<circle cx="101.7" cy="479.0" r="2" fill="none" stroke="#7fcfb0" stroke-width="0.9" opacity="0.85"/>
<circle cx="107.5" cy="481.5" r="2" fill="none" stroke="#7fcfb0" stroke-width="0.9" opacity="0.85"/>
<circle cx="113.3" cy="484.0" r="2" fill="none" stroke="#7fcfb0" stroke-width="0.9" opacity="0.85"/>
<circle cx="119.1" cy="486.5" r="2" fill="none" stroke="#7fcfb0" stroke-width="0.9" opacity="0.85"/>
<circle cx="124.9" cy="489.0" r="2" fill="none" stroke="#7fcfb0" stroke-width="0.9" opacity="0.85"/>
<circle cx="130.7" cy="491.5" r="2" fill="none" stroke="#7fcfb0" stroke-width="0.9" opacity="0.85"/>
<circle cx="136.5" cy="494.0" r="2" fill="none" stroke="#7fcfb0" stroke-width="0.9" opacity="0.85"/>
<circle cx="186.1" cy="518.3" r="2.2" fill="none" stroke="#86d4b6" stroke-width="1" opacity="0.9"/>
<circle cx="193.0" cy="521.2" r="2.2" fill="none" stroke="#86d4b6" stroke-width="1" opacity="0.9"/>
<circle cx="199.8" cy="524.1" r="2.2" fill="none" stroke="#86d4b6" stroke-width="1" opacity="0.9"/>
<circle cx="206.7" cy="527.0" r="2.2" fill="none" stroke="#86d4b6" stroke-width="1" opacity="0.9"/>
<circle cx="213.5" cy="529.9" r="2.2" fill="none" stroke="#86d4b6" stroke-width="1" opacity="0.9"/>
<rect x="303.3" y="506.6" width="4" height="3.2" fill="#8fd8bc" opacity="0.9" transform="rotate(-25 305.3 508.2)"/>
<rect x="308.8" y="500.0" width="4" height="3.2" fill="#8fd8bc" opacity="0.9" transform="rotate(-25 310.8 501.6)"/>
<rect x="314.4" y="493.5" width="4" height="3.2" fill="#8fd8bc" opacity="0.9" transform="rotate(-25 316.4 495.1)"/>
<rect x="319.9" y="487.0" width="4" height="3.2" fill="#8fd8bc" opacity="0.9" transform="rotate(-25 321.9 488.6)"/>
<rect x="266.1" y="545.7" width="3.2" height="2.8" fill="#9a9aa8" opacity="0.9"/>
<rect x="273.6" y="536.6" width="3.2" height="2.8" fill="#9a9aa8" opacity="0.9"/>
<rect x="281.1" y="527.6" width="3.2" height="2.8" fill="#9a9aa8" opacity="0.9"/>
<circle cx="323.4" cy="452.4" r="0.8" fill="#7fe0c0" opacity="0.9"/>
<circle cx="326.4" cy="453.6" r="0.8" fill="#7fe0c0" opacity="0.9"/>
<circle cx="329.4" cy="454.7" r="0.8" fill="#7fe0c0" opacity="0.9"/>
<circle cx="332.4" cy="455.8" r="0.8" fill="#7fe0c0" opacity="0.9"/>
<circle cx="335.4" cy="457.0" r="0.8" fill="#7fe0c0" opacity="0.9"/>
<circle cx="338.5" cy="458.1" r="0.8" fill="#7fe0c0" opacity="0.9"/>
<circle cx="341.5" cy="459.2" r="0.8" fill="#7fe0c0" opacity="0.9"/>
<circle cx="344.5" cy="460.3" r="0.8" fill="#7fe0c0" opacity="0.9"/>
<circle cx="347.5" cy="461.5" r="0.8" fill="#7fe0c0" opacity="0.9"/>
<circle cx="321.9" cy="454.7" r="0.8" fill="#7fe0c0" opacity="0.9"/>
<circle cx="324.9" cy="455.8" r="0.8" fill="#7fe0c0" opacity="0.9"/>
<circle cx="327.9" cy="457.0" r="0.8" fill="#7fe0c0" opacity="0.9"/>
<circle cx="330.9" cy="458.1" r="0.8" fill="#7fe0c0" opacity="0.9"/>
<circle cx="333.9" cy="459.2" r="0.8" fill="#7fe0c0" opacity="0.9"/>
<circle cx="337.0" cy="460.3" r="0.8" fill="#7fe0c0" opacity="0.9"/>
<circle cx="340.0" cy="461.5" r="0.8" fill="#7fe0c0" opacity="0.9"/>
<circle cx="343.0" cy="462.6" r="0.8" fill="#7fe0c0" opacity="0.9"/>
<circle cx="346.0" cy="463.7" r="0.8" fill="#7fe0c0" opacity="0.9"/>
<circle cx="320.4" cy="457.0" r="0.8" fill="#7fe0c0" opacity="0.9"/>
<circle cx="323.4" cy="458.1" r="0.8" fill="#7fe0c0" opacity="0.9"/>
<circle cx="326.4" cy="459.2" r="0.8" fill="#7fe0c0" opacity="0.9"/>
<circle cx="329.4" cy="460.3" r="0.8" fill="#7fe0c0" opacity="0.9"/>
<circle cx="332.4" cy="461.5" r="0.8" fill="#7fe0c0" opacity="0.9"/>
<circle cx="335.4" cy="462.6" r="0.8" fill="#7fe0c0" opacity="0.9"/>
<circle cx="338.5" cy="463.7" r="0.8" fill="#7fe0c0" opacity="0.9"/>
<circle cx="341.5" cy="464.9" r="0.8" fill="#7fe0c0" opacity="0.9"/>
<circle cx="344.5" cy="466.0" r="0.8" fill="#7fe0c0" opacity="0.9"/>
</g>
<polygon points="242.0,368.9 246.4,370.3 246.4,372.9 242.0,371.5" fill="#0e0e10"/>
<polygon points="246.4,370.3 250.0,368.2 250.0,370.8 246.4,372.9" fill="#17181b"/>
<polygon points="242.0,368.9 245.4,366.9 250.0,368.2 246.4,370.3" fill="#26272c"/>
<polygon points="248.2,370.4 252.6,371.9 252.6,374.5 248.2,373.1" fill="#0e0e10"/>
<polygon points="252.6,371.9 256.2,369.8 256.2,372.4 252.6,374.5" fill="#17181b"/>
<polygon points="248.2,370.4 251.6,368.4 256.2,369.8 252.6,371.9" fill="#26272c"/>
<polygon points="254.4,372.0 258.8,373.4 258.8,376.0 254.4,374.6" fill="#0e0e10"/>
<polygon points="258.8,373.4 262.4,371.3 262.4,373.9 258.8,376.0" fill="#17181b"/>
<polygon points="254.4,372.0 257.8,370.0 262.4,371.3 258.8,373.4" fill="#26272c"/>
<polygon points="260.6,373.5 265.0,374.9 265.0,377.6 260.6,376.1" fill="#0e0e10"/>
<polygon points="265.0,374.9 268.6,372.8 268.6,375.4 265.0,377.6" fill="#17181b"/>
<polygon points="260.6,373.5 264.0,371.5 268.6,372.8 265.0,374.9" fill="#26272c"/>
<polygon points="266.8,375.1 271.2,376.5 271.2,379.1 266.8,377.7" fill="#0e0e10"/>
<polygon points="271.2,376.5 274.8,374.4 274.8,377.0 271.2,379.1" fill="#17181b"/>
<polygon points="266.8,375.1 270.2,373.1 274.8,374.4 271.2,376.5" fill="#26272c"/>
<polygon points="273.0,376.6 277.4,378.1 277.4,380.7 273.0,379.2" fill="#0e0e10"/>
<polygon points="277.4,378.1 281.0,375.9 281.0,378.6 277.4,380.7" fill="#17181b"/>
<polygon points="273.0,376.6 276.4,374.6 281.0,375.9 277.4,378.1" fill="#26272c"/>
<polygon points="308.3,385.1 317.9,390.2 317.9,399.2 308.3,394.1" fill="#101013"/>
<polygon points="317.9,390.2 332.9,380.1 332.9,389.1 317.9,399.2" fill="#1a1b1f"/>
<polygon points="308.3,385.1 323.4,375.9 332.9,380.1 317.9,390.2" fill="#2c2d33"/>
<polygon points="232.0,392.5 237.0,394.2 237.0,396.4 232.0,394.7" fill="#0c0c0c"/>
<polygon points="237.0,394.2 241.0,392.0 241.0,394.2 237.0,396.4" fill="#151515"/>
<polygon points="232.0,392.5 236.0,390.5 241.0,392.0 237.0,394.2" fill="#222"/>
<polygon points="108.0,397.0 112.0,398.6 112.0,400.6 108.0,399.0" fill="#0c0c0c"/>
<polygon points="112.0,398.6 118.0,395.0 118.0,397.0 112.0,400.6" fill="#151515"/>
<polygon points="108.0,397.0 114.0,393.6 118.0,395.0 112.0,398.6" fill="#222"/>
<polygon points="214.0,383.5 223.0,386.5 223.0,389.5 214.0,386.5" fill="#0c0c0c"/>
<polygon points="223.0,386.5 231.0,382.5 231.0,385.5 223.0,389.5" fill="#151515"/>
<polygon points="214.0,383.5 222.0,380.0 231.0,382.5 223.0,386.5" fill="#2a2a30"/>
<line x1="325.0" y1="435.2" x2="330.4" y2="439.0" stroke="#aebad6" stroke-width="1.5"/>
<line x1="327.8" y1="432.4" x2="333.2" y2="436.2" stroke="#aebad6" stroke-width="1.5"/>
<line x1="330.6" y1="429.6" x2="336.0" y2="433.4" stroke="#aebad6" stroke-width="1.5"/>
<line x1="333.4" y1="426.8" x2="338.8" y2="430.6" stroke="#aebad6" stroke-width="1.5"/>
<line x1="336.3" y1="424.1" x2="341.7" y2="427.9" stroke="#aebad6" stroke-width="1.5"/>
<line x1="339.1" y1="421.3" x2="344.5" y2="425.1" stroke="#aebad6" stroke-width="1.5"/>
<line x1="341.9" y1="418.5" x2="347.3" y2="422.3" stroke="#aebad6" stroke-width="1.5"/>
<line x1="344.7" y1="415.7" x2="350.1" y2="419.5" stroke="#aebad6" stroke-width="1.5"/>
<line x1="285.5" y1="433.5" x2="284.6" y2="438.3" stroke="#dfe6f2" stroke-width="2"/>
<line x1="291.5" y1="435.4" x2="290.6" y2="440.2" stroke="#dfe6f2" stroke-width="2"/>
<line x1="297.5" y1="437.3" x2="296.6" y2="442.1" stroke="#dfe6f2" stroke-width="2"/>
<line x1="303.5" y1="439.2" x2="302.6" y2="444.0" stroke="#dfe6f2" stroke-width="2"/>
<line x1="309.5" y1="441.1" x2="308.6" y2="445.9" stroke="#dfe6f2" stroke-width="2"/>
<line x1="315.5" y1="443.0" x2="314.6" y2="447.8" stroke="#dfe6f2" stroke-width="2"/>
<polygon points="278.2,407.6 321.1,432.6 321.1,436.4 278.2,411.4" fill="#0d0d10"/>
<polygon points="321.1,432.6 346.7,408.6 346.7,412.4 321.1,436.4" fill="#17181c"/>
<polygon points="278.2,407.6 309.3,393.3 346.7,408.6 321.1,432.6" fill="#2e2f36"/>
<g transform="translate(307,414.2) rotate(195) skewX(-18)" style="font-family:'Liberation Sans',sans-serif;font-style:italic;font-weight:bold" font-size="5.2" text-anchor="middle"><text x="2" y="-1.6" textLength="30" lengthAdjust="spacingAndGlyphs" style="fill:#e4e4ea">SYSTEM CHIP</text><text x="-2" y="5.6" textLength="33" lengthAdjust="spacingAndGlyphs" style="fill:#e4e4ea">SMART  CHIP</text><line x1="-19" y1="0.4" x2="20" y2="0.4" stroke="#d8d8e0" stroke-width="0.45"/></g>
<polygon points="319.4,443.4 344.0,452.9 344.0,460.9 319.4,451.4" fill="#1d1e24"/>
<polygon points="344.0,452.9 355.5,444.4 355.5,452.4 344.0,460.9" fill="#2a2b33"/>
<polygon points="319.4,443.4 330.9,435.4 355.5,444.4 344.0,452.9" fill="#3c3d46"/>
<polygon points="89.1,457.6 249.9,532.0 249.9,540.0 89.1,465.6" fill="#8d9fc4"/>
<polygon points="89.1,457.6 249.9,532.0 249.9,534.2 89.1,459.8" fill="#c3cee6"/>
<polygon points="249.9,532.0 319.5,453.7 319.5,461.7 249.9,540.0" fill="#7283ad"/>
<polygon points="249.9,532.0 319.5,453.7 319.5,455.7 249.9,534.0" fill="#aab6d6"/>
<polygon points="89.1,457.6 167.6,397.0 319.5,453.7 249.9,532.0" fill="#b9c5dd"/>
<polygon points="91.2,451.8 244.6,520.9 244.6,525.9 91.2,456.8" fill="#a87a10"/>
<polygon points="244.6,520.9 314.2,449.2 314.2,454.2 244.6,525.9" fill="#7d5a0a"/>
<polygon points="91.2,451.8 167.6,394.4 314.2,449.2 244.6,520.9" fill="url(#goldG)"/>
<polygon points="246.7,491.9 303.4,443.1 308.7,445.8 252.0,495.9" fill="#cfd6de" opacity="0.9"/>
<polygon points="99.1,453.7 107.0,449.7 242.8,509.1 236.2,513.0" fill="#8a640c"/>
<polygon points="242.8,509.1 304.7,448.4 308.7,451.0 246.7,513.0" fill="#c9991a"/>
<polygon points="99.4,449.7 108.3,443.9 117.3,449.7 108.3,455.5" fill="#efd24a"/>
<polygon points="99.4,449.7 108.3,455.5 108.3,457.7 99.4,451.9" fill="#b8921c"/>
<polygon points="117.3,449.7 108.3,455.5 108.3,457.7 117.3,451.9" fill="#94700f"/>
<polygon points="285.2,451.0 294.2,445.2 303.2,451.0 294.2,456.8" fill="#efd24a"/>
<polygon points="285.2,451.0 294.2,456.8 294.2,459.0 285.2,453.2" fill="#b8921c"/>
<polygon points="303.2,451.0 294.2,456.8 294.2,459.0 303.2,453.2" fill="#94700f"/>
<polygon points="273.4,462.9 282.3,457.1 291.3,462.9 282.3,468.7" fill="#efd24a"/>
<polygon points="273.4,462.9 282.3,468.7 282.3,470.9 273.4,465.1" fill="#b8921c"/>
<polygon points="291.3,462.9 282.3,468.7 282.3,470.9 291.3,465.1" fill="#94700f"/>
<polygon points="245.7,490.6 254.6,484.8 263.6,490.6 254.6,496.4" fill="#efd24a"/>
<polygon points="245.7,490.6 254.6,496.4 254.6,498.6 245.7,492.8" fill="#b8921c"/>
<polygon points="263.6,490.6 254.6,496.4 254.6,498.6 263.6,492.8" fill="#94700f"/>
<polygon points="234.9,503.8 242.8,499.0 250.7,503.8 242.8,508.5" fill="#caa22a"/>
<polygon points="234.9,503.8 242.8,508.5 242.8,510.7 234.9,506.0" fill="#8a660c"/>
<polygon points="250.7,503.8 242.8,508.5 242.8,510.7 250.7,506.0" fill="#94700f"/>
<polygon points="112.8,423.9 228.8,468.2 229.8,499.2 114.3,450.9" fill="url(#nfSide)"/>
<polygon points="112.8,423.9 228.8,468.2 229.8,499.2 114.3,450.9" fill="#3a2030" opacity="0.18"/>
<polygon points="228.8,468.2 286.3,422.8 285.3,445.8 229.8,499.2" fill="url(#nfSide)"/>
<polygon points="228.8,468.2 286.3,422.8 285.3,445.8 229.8,499.2" fill="#2a1828" opacity="0.32"/>
<polygon points="112.8,423.9 184.0,385.4 286.3,422.8 228.8,468.2" fill="url(#nfTop)"/>
<g clip-path="url(#nfClip)"><rect x="105" y="380" width="190" height="130" filter="url(#nfNoise)"/><rect x="105" y="380" width="190" height="130" filter="url(#nfNoise2)" opacity="0.8"/></g>
<rect x="112.0" y="420.9" width="1.6" height="4" fill="#6a5560"/>
<rect x="183.2" y="382.0" width="1.6" height="4" fill="#7a5058"/>
<rect x="113.6" y="419.9" width="1.6" height="4" fill="#6a5560"/>
<rect x="185.5" y="382.7" width="1.6" height="4" fill="#7a5058"/>
<rect x="115.2" y="418.6" width="1.6" height="4" fill="#6a5560"/>
<rect x="187.7" y="384.4" width="1.6" height="4" fill="#7a5058"/>
<rect x="116.7" y="418.7" width="1.6" height="4" fill="#6a5560"/>
<rect x="190.0" y="384.0" width="1.6" height="4" fill="#7a5058"/>
<rect x="118.3" y="417.5" width="1.6" height="4" fill="#6a5560"/>
<rect x="192.3" y="385.8" width="1.6" height="4" fill="#7a5058"/>
<rect x="119.9" y="415.5" width="1.6" height="4" fill="#6a5560"/>
<rect x="194.6" y="386.3" width="1.6" height="4" fill="#7a5058"/>
<rect x="121.5" y="414.9" width="1.6" height="4" fill="#6a5560"/>
<rect x="196.8" y="387.1" width="1.6" height="4" fill="#7a5058"/>
<rect x="123.1" y="414.3" width="1.6" height="4" fill="#6a5560"/>
<rect x="199.1" y="388.4" width="1.6" height="4" fill="#7a5058"/>
<rect x="124.7" y="413.5" width="1.6" height="4" fill="#6a5560"/>
<rect x="201.4" y="388.2" width="1.6" height="4" fill="#7a5058"/>
<rect x="126.2" y="412.8" width="1.6" height="4" fill="#6a5560"/>
<rect x="203.6" y="389.2" width="1.6" height="4" fill="#7a5058"/>
<rect x="127.8" y="411.7" width="1.6" height="4" fill="#6a5560"/>
<rect x="205.9" y="391.0" width="1.6" height="4" fill="#7a5058"/>
<rect x="129.4" y="410.7" width="1.6" height="4" fill="#6a5560"/>
<rect x="208.2" y="391.1" width="1.6" height="4" fill="#7a5058"/>
<rect x="131.0" y="410.6" width="1.6" height="4" fill="#6a5560"/>
<rect x="210.5" y="392.7" width="1.6" height="4" fill="#7a5058"/>
<rect x="132.6" y="408.9" width="1.6" height="4" fill="#6a5560"/>
<rect x="212.7" y="392.9" width="1.6" height="4" fill="#7a5058"/>
<rect x="134.1" y="408.2" width="1.6" height="4" fill="#6a5560"/>
<rect x="215.0" y="393.1" width="1.6" height="4" fill="#7a5058"/>
<rect x="135.7" y="407.4" width="1.6" height="4" fill="#6a5560"/>
<rect x="217.3" y="393.9" width="1.6" height="4" fill="#7a5058"/>
<rect x="137.3" y="407.0" width="1.6" height="4" fill="#6a5560"/>
<rect x="219.6" y="394.9" width="1.6" height="4" fill="#7a5058"/>
<rect x="138.9" y="406.1" width="1.6" height="4" fill="#6a5560"/>
<rect x="221.8" y="395.5" width="1.6" height="4" fill="#7a5058"/>
<rect x="140.5" y="404.6" width="1.6" height="4" fill="#6a5560"/>
<rect x="224.1" y="397.6" width="1.6" height="4" fill="#7a5058"/>
<rect x="142.1" y="404.8" width="1.6" height="4" fill="#6a5560"/>
<rect x="226.4" y="398.3" width="1.6" height="4" fill="#7a5058"/>
<rect x="143.6" y="402.7" width="1.6" height="4" fill="#6a5560"/>
<rect x="228.7" y="398.8" width="1.6" height="4" fill="#7a5058"/>
<rect x="145.2" y="402.4" width="1.6" height="4" fill="#6a5560"/>
<rect x="230.9" y="399.8" width="1.6" height="4" fill="#7a5058"/>
<rect x="146.8" y="401.7" width="1.6" height="4" fill="#6a5560"/>
<rect x="233.2" y="400.5" width="1.6" height="4" fill="#7a5058"/>
<rect x="148.4" y="401.1" width="1.6" height="4" fill="#6a5560"/>
<rect x="235.5" y="401.1" width="1.6" height="4" fill="#7a5058"/>
<rect x="150.0" y="399.9" width="1.6" height="4" fill="#6a5560"/>
<rect x="237.7" y="401.4" width="1.6" height="4" fill="#7a5058"/>
<rect x="151.5" y="398.9" width="1.6" height="4" fill="#6a5560"/>
<rect x="240.0" y="402.2" width="1.6" height="4" fill="#7a5058"/>
<rect x="153.1" y="397.8" width="1.6" height="4" fill="#6a5560"/>
<rect x="242.3" y="402.9" width="1.6" height="4" fill="#7a5058"/>
<rect x="154.7" y="397.2" width="1.6" height="4" fill="#6a5560"/>
<rect x="244.6" y="405.0" width="1.6" height="4" fill="#7a5058"/>
<rect x="156.3" y="396.1" width="1.6" height="4" fill="#6a5560"/>
<rect x="246.8" y="404.6" width="1.6" height="4" fill="#7a5058"/>
<rect x="157.9" y="395.1" width="1.6" height="4" fill="#6a5560"/>
<rect x="249.1" y="406.1" width="1.6" height="4" fill="#7a5058"/>
<rect x="159.5" y="394.6" width="1.6" height="4" fill="#6a5560"/>
<rect x="251.4" y="407.4" width="1.6" height="4" fill="#7a5058"/>
<rect x="161.0" y="393.5" width="1.6" height="4" fill="#6a5560"/>
<rect x="253.7" y="407.7" width="1.6" height="4" fill="#7a5058"/>
<rect x="162.6" y="393.5" width="1.6" height="4" fill="#6a5560"/>
<rect x="255.9" y="409.3" width="1.6" height="4" fill="#7a5058"/>
<rect x="164.2" y="391.8" width="1.6" height="4" fill="#6a5560"/>
<rect x="258.2" y="408.8" width="1.6" height="4" fill="#7a5058"/>
<rect x="165.8" y="392.1" width="1.6" height="4" fill="#6a5560"/>
<rect x="260.5" y="409.9" width="1.6" height="4" fill="#7a5058"/>
<rect x="167.4" y="390.7" width="1.6" height="4" fill="#6a5560"/>
<rect x="262.7" y="411.7" width="1.6" height="4" fill="#7a5058"/>
<rect x="168.9" y="390.1" width="1.6" height="4" fill="#6a5560"/>
<rect x="265.0" y="411.6" width="1.6" height="4" fill="#7a5058"/>
<rect x="170.5" y="388.3" width="1.6" height="4" fill="#6a5560"/>
<rect x="267.3" y="413.5" width="1.6" height="4" fill="#7a5058"/>
<rect x="172.1" y="387.9" width="1.6" height="4" fill="#6a5560"/>
<rect x="269.6" y="414.3" width="1.6" height="4" fill="#7a5058"/>
<rect x="173.7" y="386.9" width="1.6" height="4" fill="#6a5560"/>
<rect x="271.8" y="414.8" width="1.6" height="4" fill="#7a5058"/>
<rect x="175.3" y="385.8" width="1.6" height="4" fill="#6a5560"/>
<rect x="274.1" y="414.6" width="1.6" height="4" fill="#7a5058"/>
<rect x="176.9" y="385.5" width="1.6" height="4" fill="#6a5560"/>
<rect x="276.4" y="415.4" width="1.6" height="4" fill="#7a5058"/>
<rect x="178.4" y="384.9" width="1.6" height="4" fill="#6a5560"/>
<rect x="278.7" y="417.6" width="1.6" height="4" fill="#7a5058"/>
<rect x="180.0" y="383.6" width="1.6" height="4" fill="#6a5560"/>
<rect x="280.9" y="418.5" width="1.6" height="4" fill="#7a5058"/>
<rect x="181.6" y="383.4" width="1.6" height="4" fill="#6a5560"/>
<rect x="283.2" y="418.8" width="1.6" height="4" fill="#7a5058"/>
<rect x="183.2" y="381.9" width="1.6" height="4" fill="#6a5560"/>
<rect x="285.5" y="420.0" width="1.6" height="4" fill="#7a5058"/>
<path d="M300.0 478.7 Q306.1 468.2 311.3 497.7" fill="none" stroke="#b8962a" stroke-width="0.9"/>
<path d="M271.8 506.4 Q281.0 502.5 283.6 530.9" fill="none" stroke="#b8962a" stroke-width="0.9"/>
<path d="M257.3 520.9 Q266.5 520.9 269.9 539.4" fill="none" stroke="#b8962a" stroke-width="0.9"/>
<path d="M310.0 464.2 Q317.9 465.5 320.0 473.5" fill="none" stroke="#b8962a" stroke-width="0.9"/>
<path d="M169.8 321.1 Q172.4 318.8 175.0 321.1 L176.4 354.0 L171.2 354.0 Z" fill="url(#pinG)"/>
<ellipse cx="172.4" cy="321.4" rx="2.2" ry="1.1" fill="#9a9ea0"/>
<polygon points="164.9,357.7 170.9,353.3 175.7,352.3 181.7,354.1 186.4,358.9 187.1,372.7 184.1,376.2 178.0,379.2 172.1,378.1 164.9,373.3 164.3,359.5" fill="url(#housG)" stroke="#15161a" stroke-width="1.5" stroke-linejoin="round"/>
<polygon points="165.8,359.0 175.2,353.8 185.4,359.4 175.6,365.2" fill="#3b3e46" stroke="#3b3e46" stroke-width="1.0" stroke-linejoin="round" opacity="0.9"/>
<polygon points="175.6,365.2 185.4,359.4 186.5,372.6 178.0,378.6" fill="#0c0c0e" opacity="0.55"/>
<path d="M154.4 327.9 Q157.1 325.5 159.8 327.9 L163.1 361.0 L157.7 361.0 Z" fill="url(#pinG)"/>
<ellipse cx="157.1" cy="328.2" rx="2.3" ry="1.2" fill="#9a9ea0"/>
<polygon points="150.8,364.6 157.0,360.1 161.9,359.1 168.1,361.0 173.0,365.9 173.6,380.1 170.6,383.7 164.4,386.8 158.2,385.6 150.8,380.7 150.2,366.5" fill="url(#housG)" stroke="#15161a" stroke-width="1.6" stroke-linejoin="round"/>
<polygon points="151.8,366.0 161.5,360.7 171.9,366.4 161.8,372.4" fill="#3b3e46" stroke="#3b3e46" stroke-width="1.1" stroke-linejoin="round" opacity="0.9"/>
<polygon points="161.8,372.4 171.9,366.4 173.1,380.0 164.4,386.2" fill="#0c0c0e" opacity="0.55"/>
<path d="M95.8 353.5 Q98.9 350.7 102.0 353.5 L108.8 391.0 L102.6 391.0 Z" fill="url(#pinG)"/>
<ellipse cx="98.9" cy="353.8" rx="2.7" ry="1.4" fill="#9a9ea0"/>
<polygon points="95.0,395.9 102.7,390.2 108.7,389.0 116.4,391.3 122.4,397.4 123.2,414.9 119.4,419.4 111.7,423.3 104.2,421.8 95.0,415.7 94.3,398.2" fill="url(#housG)" stroke="#15161a" stroke-width="2.0" stroke-linejoin="round"/>
<polygon points="96.2,397.5 108.2,391.0 121.1,398.1 108.6,405.5" fill="#3b3e46" stroke="#3b3e46" stroke-width="1.3" stroke-linejoin="round" opacity="0.9"/>
<polygon points="108.6,405.5 121.1,398.1 122.5,414.8 111.7,422.5" fill="#0c0c0e" opacity="0.55"/>
<path d="M76.8 361.7 Q80.1 358.7 83.4 361.7 L91.5 400.5 L84.9 400.5 Z" fill="url(#pinG)"/>
<ellipse cx="80.1" cy="362.0" rx="2.9" ry="1.5" fill="#9a9ea0"/>
<polygon points="76.2,405.7 84.2,399.8 90.5,398.5 98.5,400.9 104.8,407.2 105.7,425.6 101.7,430.3 93.7,434.3 85.8,432.7 76.2,426.4 75.4,408.1" fill="url(#housG)" stroke="#15161a" stroke-width="2.0" stroke-linejoin="round"/>
<polygon points="77.4,407.4 89.9,400.5 103.4,408.0 90.4,415.7" fill="#3b3e46" stroke="#3b3e46" stroke-width="1.4" stroke-linejoin="round" opacity="0.9"/>
<polygon points="90.4,415.7 103.4,408.0 104.9,425.5 93.7,433.5" fill="#0c0c0e" opacity="0.55"/>
<path d="M56.6 371.1 Q60.1 368.0 63.6 371.1 L72.2 410.5 L65.3 410.5 Z" fill="url(#pinG)"/>
<ellipse cx="60.1" cy="371.4" rx="3.1" ry="1.5" fill="#9a9ea0"/>
<polygon points="57.1,415.4 65.5,409.3 72.1,407.9 80.4,410.4 87.0,417.0 87.9,436.1 83.7,441.1 75.4,445.2 67.1,443.6 57.1,437.0 56.4,417.9" fill="url(#housG)" stroke="#15161a" stroke-width="2.1" stroke-linejoin="round"/>
<polygon points="58.4,417.2 71.5,410.0 85.6,417.8 72.0,425.8" fill="#3b3e46" stroke="#3b3e46" stroke-width="1.5" stroke-linejoin="round" opacity="0.9"/>
<polygon points="72.0,425.8 85.6,417.8 87.1,436.0 75.4,444.4" fill="#0c0c0e" opacity="0.55"/>
<path d="M34.2 382.2 Q37.8 379.0 41.4 382.2 L51.1 422.0 L43.9 422.0 Z" fill="url(#pinG)"/>
<ellipse cx="37.8" cy="382.5" rx="3.2" ry="1.6" fill="#9a9ea0"/>
<polygon points="35.3,426.7 43.9,420.4 50.7,419.0 59.3,421.6 66.1,428.4 67.0,448.1 62.7,453.2 54.1,457.5 45.6,455.8 35.3,449.0 34.5,429.3" fill="url(#housG)" stroke="#15161a" stroke-width="2.2" stroke-linejoin="round"/>
<polygon points="36.6,428.6 50.1,421.2 64.6,429.2 50.6,437.5" fill="#3b3e46" stroke="#3b3e46" stroke-width="1.5" stroke-linejoin="round" opacity="0.9"/>
<polygon points="50.6,437.5 64.6,429.2 66.2,448.0 54.1,456.6" fill="#0c0c0e" opacity="0.55"/>
<ellipse cx="204.9" cy="456.5" rx="106.8" ry="72.5" transform="rotate(20.5 204.9 456.5)" fill="none" stroke="#ea151b" stroke-width="3.2" stroke-dasharray="19 9.5" stroke-dashoffset="4"/>
<text x="22" y="551.3" class="lbl">Humidity sensor</text>
</g>
<!-- Bluetooth transmission block -->
<g id="bt">
  <rect x="425.5" y="312.5" width="322.5" height="233" rx="17" fill="#fff" stroke="#000" stroke-width="2"/>
  <rect x="548" y="318" width="184" height="223" rx="16" fill="none" stroke="#b05c18" stroke-width="2"/>
  <rect x="555" y="330.5" width="168.5" height="151.5" fill="none" stroke="#b05c18" stroke-width="1.8" stroke-dasharray="8.2 3.1"/>
  <text x="638.5" y="351" text-anchor="middle" class="b" font-size="15.6">Signal reading circuit</text>
  <g fill="#fff" stroke="#b05c18" stroke-width="2">
    <rect x="571" y="363.5" width="138" height="21.5"/>
    <rect x="569" y="408" width="140" height="21.5"/>
    <rect x="569" y="452.5" width="143" height="21.5"/>
    <rect x="571" y="508" width="141" height="21.5"/>
    <rect x="443" y="402.5" width="83.5" height="39.5"/>
  </g>
  <g class="b" font-size="15.4" text-anchor="middle">
    <text x="640" y="380">BLE</text>
    <text x="639" y="424.5">MCU</text>
    <text x="640.5" y="469">Clock</text>
    <text x="641.5" y="524.5">Power</text>
    <text x="484.5" y="427.5">Sensor</text>
  </g>
  <!-- arrows -->
  <g stroke="#000" stroke-width="1.2" fill="#000">
    <line x1="527" y1="424.5" x2="542" y2="424.5"/><path d="M546.5 424.5 l-6 -2.8 v5.6z" stroke="none"/>
    <line x1="637" y1="403" x2="637" y2="392"/><path d="M637 387.5 l-2.8 6 h5.6z" stroke="none"/>
    <line x1="648" y1="388" x2="648" y2="399"/><path d="M648 403.5 l-2.8 -6 h5.6z" stroke="none"/>
    <line x1="637" y1="448.5" x2="637" y2="437.5"/><path d="M637 433 l-2.8 6 h5.6z" stroke="none"/>
    <line x1="648" y1="433.5" x2="648" y2="444.5"/><path d="M648 449 l-2.8 -6 h5.6z" stroke="none"/>
    <line x1="642.5" y1="507" x2="642.5" y2="491"/><path d="M642.5 486.5 l-2.8 6 h5.6z" stroke="none"/>
  </g>
  <!-- bluetooth glyph -->
  <path d="M469.7 346.4 L494.9 372 L482.3 383.8 V335.6 L494.9 347.4 L469.7 373" fill="none" stroke="#1e96dc" stroke-width="5.2" stroke-linejoin="round" stroke-linecap="round"/>
  <text x="586" y="567.5" text-anchor="middle" class="lbl">Bluetooth transmission</text>
</g>
<!-- wifi signal -->
<g id="wifi" fill="none" stroke="#70ad47">
  <circle cx="762.5" cy="450.5" r="7.5" fill="#70ad47" stroke="none"/>
  <path d="M772.9 434.5 A22.4 22.4 0 0 1 772.9 467" stroke-width="7.6"/>
  <path d="M783.6 423.7 A38.9 38.9 0 0 1 783.6 477.6" stroke-width="7.8"/>
</g>
<!-- Phone -->
<g id="phone">
  <defs>
    <linearGradient id="scopeG" x1="0" x2="1" y1="0" y2="0">
      <stop offset="0" stop-color="#0e2431"/><stop offset="0.5" stop-color="#1b4f5a"/><stop offset="1" stop-color="#0e2431"/>
    </linearGradient>
    <clipPath id="scopeClip"><rect x="858" y="412.8" width="206" height="151.4"/></clipPath>
  </defs>
  <!-- drop shadow under phone -->
  <rect x="820" y="575" width="284" height="30" rx="14" fill="#bdbdbd" filter="url(#blur6)" opacity="0.9"/>
  <rect x="806" y="60" width="20" height="520" fill="#cfcfcf" filter="url(#blur6)" opacity="0.45"/>
  <!-- side buttons -->
  <rect x="811.8" y="73" width="5" height="52.5" rx="1.5" fill="#2a2a2a"/>
  <rect x="811.8" y="134.5" width="5" height="50.5" rx="1.5" fill="#2a2a2a"/>
  <rect x="811.8" y="194" width="5" height="52.5" rx="1.5" fill="#2a2a2a"/>
  <rect x="1107" y="73" width="4.6" height="53" rx="1.5" fill="#2a2a2a"/>
  <!-- frame -->
  <rect x="814.8" y="26" width="294" height="569" rx="35" fill="#555"/>
  <rect x="815.8" y="27" width="292" height="567" rx="34" fill="#353535"/>
  <rect x="824.2" y="34.8" width="275.5" height="551.7" rx="25" fill="#f5f5f5"/>
  <!-- notch -->
  <path d="M882 34.8 H1042 a3 3 0 0 0 -3 3 V42 a12 12 0 0 1 -12 12 H897 a12 12 0 0 1 -12 -12 V37.8 a3 3 0 0 0 -3 -3z" fill="#353535"/>
  <!-- status bar -->
  <text x="848.8" y="49.4" font-size="9.5" class="b" style="fill:#222">9:41</text>
  <g fill="#111">
    <rect x="1040.3" y="46.6" width="2.1" height="2.2" rx="0.6"/>
    <rect x="1043.6" y="45.2" width="2.1" height="3.6" rx="0.6"/>
    <rect x="1046.9" y="43.6" width="2.1" height="5.2" rx="0.6"/>
    <rect x="1050.2" y="42" width="2.1" height="6.8" rx="0.6"/>
    <circle cx="1061.8" cy="47.9" r="1"/>
  </g>
  <g fill="none" stroke="#111" stroke-width="1.3" stroke-linecap="butt">
    <path d="M1059.7 46.2 A3 3 0 0 1 1063.9 46.2"/>
    <path d="M1057.6 44.3 A6 6 0 0 1 1066 44.3" stroke-width="1.4"/>
  </g>
  <rect x="1071.3" y="42" width="16.2" height="7.2" rx="1.9" fill="#fff" stroke="#bbb" stroke-width="0.6"/>
  <rect x="1072.7" y="43.3" width="13.4" height="4.6" rx="1" fill="#000"/>
  <rect x="1087.9" y="44.4" width="1" height="2.4" rx="0.5" fill="#bbb"/>
  <!-- title -->
  <g style="fill:#4472c4" class="b" font-size="15.7" text-anchor="middle">
    <text x="960.6" y="84.8" style="fill:#4472c4">Behavioral Recognition</text>
    <text x="960.3" y="103.7" style="fill:#4472c4">System</text>
  </g>
  <!-- runner icon -->
  <g id="runner" fill="none" stroke="#4472c4" stroke-linecap="round" stroke-linejoin="round">
    <circle cx="855.5" cy="73.8" r="2.9" fill="#4472c4" stroke="none"/>
    <path d="M844.5 83 L848 79.6 L854 79.2 L857.5 83.3 L860.5 83 L862 79.8" stroke-width="2.6"/>
    <path d="M853.3 80 L849.5 88.5" stroke-width="4.6"/>
    <path d="M849.8 88.5 L853.4 92.5 L853.4 101" stroke-width="2.9"/>
    <path d="M849 88 L844.5 94 L836.5 94" stroke-width="2.9"/>
  </g>
  <!-- headset person -->
  <g id="agent">
    <circle cx="1071.4" cy="80.6" r="8.8" fill="#4472c4"/>
    <path d="M1063 72.5 A11.6 11.6 0 0 1 1082.7 78.1" fill="none" stroke="#4472c4" stroke-width="2.9"/>
    <rect x="1083.2" y="77.2" width="3.9" height="8" rx="1.5" fill="#4472c4"/>
    <path d="M1076.3 88.4 L1083.5 86.2" stroke="#f5f5f5" stroke-width="3.4" fill="none" stroke-linecap="round"/>
    <path d="M1085.3 84 Q1085 86.6 1075.2 86.9" fill="none" stroke="#4472c4" stroke-width="1.7" stroke-linecap="round"/>
    <circle cx="1075.2" cy="86.9" r="1.5" fill="#4472c4"/>
    <path d="M1053.3 110.5 V101.5 Q1053.3 95 1063 93.3 Q1071.6 91.6 1080.2 93.3 Q1089.9 95 1089.9 101.5 V110.5z" fill="#4472c4"/>
  </g>
  <!-- Information pill -->
  <rect x="836.3" y="119.3" width="105" height="26.6" rx="13.3" fill="#fff" stroke="#000" stroke-width="1.6"/>
  <text x="888.8" y="137.6" text-anchor="middle" class="b" font-size="15.7">Information</text>
  <!-- info card -->
  <rect x="836" y="157" width="251.5" height="99" rx="15" fill="#c0cffa"/>
  <g class="b" font-size="14.5">
    <text x="853.6" y="177.3">Name: Bell</text>
    <text x="853.6" y="200.3">Behavior: Walk</text>
    <text x="853.6" y="223.3">Frequency: 32 times/min</text>
    <text x="853.6" y="246.3">Amplitude: 132</text>
  </g>
  <rect x="847.2" y="166" width="3.4" height="13" fill="#1f74c8"/>
  <rect x="847.2" y="189" width="3.4" height="13" fill="#f4b183"/>
  <rect x="847.2" y="211" width="3.4" height="13" fill="#22b14c"/>
  <rect x="847.2" y="233.5" width="3.4" height="13" fill="#7030a0"/>
  <!-- walker icon -->
  <g id="walker" fill="none" stroke="#dd1f7a" stroke-width="2.9" stroke-linecap="round" stroke-linejoin="round">
    <circle cx="1045.1" cy="184.8" r="3.5"/>
    <path d="M1032.8 206.4 V199.3 Q1033 196 1039.6 192.1 H1044.2 Q1045.6 193 1045.6 196.5 V209.8 L1050.6 224.4"/>
    <path d="M1039.6 192.6 V204.7 L1045 211.5" stroke-width="2.6"/>
    <path d="M1049.4 199.9 L1056.1 204.6"/>
    <path d="M1042.4 215.9 L1036.9 223.7"/>
  </g>
  <!-- Time Statistics pill -->
  <rect x="836.8" y="271" width="124" height="25.8" rx="12.9" fill="#fff" stroke="#000" stroke-width="1.6"/>
  <text x="898.8" y="288.8" text-anchor="middle" class="b" font-size="15.8">Time Statistics</text>
  <!-- timer card -->
  <rect x="835.5" y="306.5" width="252" height="54" rx="15" fill="#d9d2f0"/>
  <rect x="845.8" y="314" width="224.4" height="36.2" rx="9" fill="#fff"/>
  <text x="962.6" y="337.4" text-anchor="middle" font-size="15.4" style="font-family:'Liberation Serif',serif;font-weight:bold">00:01:11</text>
  <rect x="1033" y="325.8" width="22" height="9.6" rx="4.8" fill="#fbdcae"/>
  <circle cx="1053.3" cy="330.7" r="7.2" fill="#fff" stroke="#f2a539" stroke-width="1.7"/>
  <!-- Respiratory waveform pill -->
  <rect x="842" y="373.2" width="186" height="26.2" rx="13.1" fill="#fff" stroke="#000" stroke-width="1.6"/>
  <text x="935" y="391.2" text-anchor="middle" class="b" font-size="15.8">Respiratory waveform</text>
  <!-- waveform card -->
  <rect x="835.2" y="407.7" width="251" height="160" rx="14" fill="#c4e7f8"/>
  <circle cx="1077.3" cy="432.6" r="9.3" fill="#daf1fb"/>
  <rect x="858" y="412.8" width="206" height="151.4" fill="#0f2531"/>
  <g clip-path="url(#scopeClip)">
    <rect x="861.4" y="430.3" width="186.3" height="118.7" fill="#14353f"/>
    <rect x="893" y="442" width="113" height="95.4" fill="#1a4751"/>
    <rect x="893" y="442" width="113" height="95.4" fill="#1a4751" filter="url(#blur3)" opacity="0.6"/>
    <g stroke="#2a7474" stroke-width="1.1" opacity="0.62">
      <line x1="860.3" y1="418" x2="860.3" y2="560" stroke="#45aaa6" stroke-width="1.3"/>
      <line x1="885.2" y1="423.3" x2="885.2" y2="558.4"/>
      <line x1="903.4" y1="423.3" x2="903.4" y2="558.4"/>
      <line x1="927.8" y1="423.3" x2="927.8" y2="558.4" stroke="#3a9a97"/>
      <line x1="952.3" y1="423.3" x2="952.3" y2="558.4"/>
      <line x1="970.9" y1="423.3" x2="970.9" y2="558.4"/>
      <line x1="995.3" y1="423.3" x2="995.3" y2="558.4" stroke="#4fb5b0" stroke-width="1.3"/>
      <line x1="1019.8" y1="423.3" x2="1019.8" y2="558.4"/>
      <line x1="1038.4" y1="423.3" x2="1038.4" y2="558.4"/>
      <line x1="1062.9" y1="423.3" x2="1062.9" y2="558.4" stroke="#45aaa6" stroke-width="1.3"/>
      <line x1="860" y1="491.5" x2="1064" y2="491.5" stroke="#3fa09c" stroke-width="1.3"/>
    </g>
    <path d="M857 455.1 L860 452.6 L863 450.9 L866 450.1 L869 450.1 L872 450.9 L875 452.6 L878 455.1 L881 458.3 L884 462.1 L887 466.5 L890 471.5 L893 476.8 L896 482.3 L899 488.0 L902 493.8 L905 499.4 L908 504.8 L911 509.9 L914 514.5 L917 518.5 L920 521.9 L923 524.7 L926 526.6 L929 527.7 L932 528.0 L935 527.4 L938 526.0 L941 523.8 L944 520.9 L947 517.2 L950 513.0 L953 508.2 L956 503.0 L959 497.5 L962 491.9 L965 486.1 L968 480.5 L971 475.0 L974 469.8 L977 465.0 L980 460.8 L983 457.1 L986 454.2 L989 452.0 L992 450.6 L995 450.0 L998 450.3 L1001 451.4 L1004 453.3 L1007 456.1 L1010 459.5 L1013 463.5 L1016 468.1 L1019 473.2 L1022 478.6 L1025 484.2 L1028 490.0 L1031 495.7 L1034 501.2 L1037 506.5 L1040 511.5 L1043 515.9 L1046 519.7 L1049 522.9 L1052 525.4 L1055 527.1 L1058 527.9 L1061 527.9 L1064 527.1" fill="none" stroke="#5f979b" stroke-width="1.1" opacity="0.85"/>
    <path d="M858 447 C870 425 885 415.8 901 415.8 C930 415.8 945 460 961.6 492 C978 524 995 561.8 1018.6 561.8 C1038 561.8 1052 548 1064 527" fill="none" stroke="#cdb391" stroke-width="1.7"/>
    <path d="M858 456 C872 440 886 432.5 900 432.5 C928 432.5 945 466 961.6 492 C978 518 995 546.6 1018.6 546.6 C1038 546.6 1052 535 1064 517" fill="none" stroke="#46d3d6" stroke-width="2.4"/>
  </g>
  <!-- red Hz badge -->
  <circle cx="895.8" cy="520.3" r="27.4" fill="#de2010"/>
  <path d="M884.7 546 L895.2 536.4 L905.7 545" fill="none" stroke="#1b3038" stroke-width="4.2" stroke-linejoin="round"/>
  <g stroke="#4a1712" stroke-width="1.9" fill="none" stroke-linejoin="round" stroke-linecap="round">
    <path d="M881 510.6 H887 L888.8 508.5 L890.2 513.5 L891.9 502 L894.2 517 L896.3 506 L898 511.5 L899.3 510.6 H906"/>
    <path d="M909.5 510.6 H911"/>
  </g>
  <text x="894.8" y="531.6" text-anchor="middle" class="b" font-size="10.4" style="fill:#4a1712">Hz</text>
  <!-- home bar -->
  <rect x="912.5" y="576.8" width="98" height="3.2" rx="1.6" fill="#000"/>
</g>
<!-- Cloud computing / CNN -->
<g id="cnn">
<defs><linearGradient id="fanG" x1="0" x2="1" y1="0" y2="0"><stop offset="0" stop-color="#d48f8d"/><stop offset="0.35" stop-color="#e3b1af"/><stop offset="0.8" stop-color="#f6e4e3"/><stop offset="1" stop-color="#fdf8f8"/></linearGradient></defs>
<g fill="none" stroke="#000" stroke-width="2" stroke-dasharray="15.5 8.1">
<path d="M793.3 585.8 H38.3 V848 H793.3 Z"/>
<path d="M793.3 585.8 L890 701"/>
<path d="M793.3 848 L859 837.5"/>
</g>
<text x="406.5" y="624.3" text-anchor="middle" class="lbl">Cloud computing</text>
<text x="84" y="691" text-anchor="middle" font-size="14.2" style="fill:#111">Input</text>
<rect x="49.80" y="695.70" width="7.20" height="7.18" fill="#7a0a08"/>
<rect x="56.70" y="695.70" width="7.20" height="7.18" fill="#7a0a08"/>
<rect x="63.60" y="695.70" width="7.20" height="7.18" fill="#a83210"/>
<rect x="70.50" y="695.70" width="7.20" height="7.18" fill="#a83210"/>
<rect x="77.40" y="695.70" width="7.20" height="7.18" fill="#b05a14"/>
<rect x="84.30" y="695.70" width="7.20" height="7.18" fill="#b05a14"/>
<rect x="91.20" y="695.70" width="7.20" height="7.18" fill="#b08a1c"/>
<rect x="98.10" y="695.70" width="7.20" height="7.18" fill="#a84a14"/>
<rect x="105.00" y="695.70" width="7.20" height="7.18" fill="#6a1a10"/>
<rect x="111.90" y="695.70" width="7.20" height="7.18" fill="#3a0810"/>
<rect x="49.80" y="702.58" width="7.20" height="7.18" fill="#3a0a10"/>
<rect x="56.70" y="702.58" width="7.20" height="7.18" fill="#3a0a10"/>
<rect x="63.60" y="702.58" width="7.20" height="7.18" fill="#8a1010"/>
<rect x="70.50" y="702.58" width="7.20" height="7.18" fill="#8a1010"/>
<rect x="77.40" y="702.58" width="7.20" height="7.18" fill="#a02a14"/>
<rect x="84.30" y="702.58" width="7.20" height="7.18" fill="#a83a18"/>
<rect x="91.20" y="702.58" width="7.20" height="7.18" fill="#a84a18"/>
<rect x="98.10" y="702.58" width="7.20" height="7.18" fill="#a86a1c"/>
<rect x="105.00" y="702.58" width="7.20" height="7.18" fill="#a8801c"/>
<rect x="111.90" y="702.58" width="7.20" height="7.18" fill="#a07020"/>
<rect x="49.80" y="709.46" width="7.20" height="7.18" fill="#a0601c"/>
<rect x="56.70" y="709.46" width="7.20" height="7.18" fill="#7a2a1c"/>
<rect x="63.60" y="709.46" width="7.20" height="7.18" fill="#3a0a1c"/>
<rect x="70.50" y="709.46" width="7.20" height="7.18" fill="#3a0a1c"/>
<rect x="77.40" y="709.46" width="7.20" height="7.18" fill="#4a0c20"/>
<rect x="84.30" y="709.46" width="7.20" height="7.18" fill="#8a1020"/>
<rect x="91.20" y="709.46" width="7.20" height="7.18" fill="#9a1420"/>
<rect x="98.10" y="709.46" width="7.20" height="7.18" fill="#a02420"/>
<rect x="105.00" y="709.46" width="7.20" height="7.18" fill="#a02820"/>
<rect x="111.90" y="709.46" width="7.20" height="7.18" fill="#a05020"/>
<rect x="49.80" y="716.34" width="7.20" height="7.18" fill="#a8681c"/>
<rect x="56.70" y="716.34" width="7.20" height="7.18" fill="#a8782c"/>
<rect x="63.60" y="716.34" width="7.20" height="7.18" fill="#a08030"/>
<rect x="70.50" y="716.34" width="7.20" height="7.18" fill="#6a2030"/>
<rect x="77.40" y="716.34" width="7.20" height="7.18" fill="#3a1030"/>
<rect x="84.30" y="716.34" width="7.20" height="7.18" fill="#30103a"/>
<rect x="91.20" y="716.34" width="7.20" height="7.18" fill="#30103a"/>
<rect x="98.10" y="716.34" width="7.20" height="7.18" fill="#8a1430"/>
<rect x="105.00" y="716.34" width="7.20" height="7.18" fill="#9a1c2c"/>
<rect x="111.90" y="716.34" width="7.20" height="7.18" fill="#a03030"/>
<rect x="49.80" y="723.22" width="7.20" height="7.18" fill="#a0303c"/>
<rect x="56.70" y="723.22" width="7.20" height="7.18" fill="#a86034"/>
<rect x="63.60" y="723.22" width="7.20" height="7.18" fill="#a88030"/>
<rect x="70.50" y="723.22" width="7.20" height="7.18" fill="#a08030"/>
<rect x="77.40" y="723.22" width="7.20" height="7.18" fill="#a08030"/>
<rect x="84.30" y="723.22" width="7.20" height="7.18" fill="#8a2a3c"/>
<rect x="91.20" y="723.22" width="7.20" height="7.18" fill="#5a1840"/>
<rect x="98.10" y="723.22" width="7.20" height="7.18" fill="#3a1048"/>
<rect x="105.00" y="723.22" width="7.20" height="7.18" fill="#3a1048"/>
<rect x="111.90" y="723.22" width="7.20" height="7.18" fill="#6a1040"/>
<rect x="49.80" y="730.10" width="7.20" height="7.18" fill="#9a104a"/>
<rect x="56.70" y="730.10" width="7.20" height="7.18" fill="#a02c44"/>
<rect x="63.60" y="730.10" width="7.20" height="7.18" fill="#a02c44"/>
<rect x="70.50" y="730.10" width="7.20" height="7.18" fill="#a85a44"/>
<rect x="77.40" y="730.10" width="7.20" height="7.18" fill="#a87a40"/>
<rect x="84.30" y="730.10" width="7.20" height="7.18" fill="#a88a40"/>
<rect x="91.20" y="730.10" width="7.20" height="7.18" fill="#a88a40"/>
<rect x="98.10" y="730.10" width="7.20" height="7.18" fill="#a06a48"/>
<rect x="105.00" y="730.10" width="7.20" height="7.18" fill="#6a2a4c"/>
<rect x="111.90" y="730.10" width="7.20" height="7.18" fill="#3a1a58"/>
<rect x="49.80" y="736.98" width="7.20" height="7.18" fill="#30106a"/>
<rect x="56.70" y="736.98" width="7.20" height="7.18" fill="#30106a"/>
<rect x="63.60" y="736.98" width="7.20" height="7.18" fill="#98105a"/>
<rect x="70.50" y="736.98" width="7.20" height="7.18" fill="#98105a"/>
<rect x="77.40" y="736.98" width="7.20" height="7.18" fill="#a0304c"/>
<rect x="84.30" y="736.98" width="7.20" height="7.18" fill="#a04050"/>
<rect x="91.20" y="736.98" width="7.20" height="7.18" fill="#a04050"/>
<rect x="98.10" y="736.98" width="7.20" height="7.18" fill="#a06a50"/>
<rect x="105.00" y="736.98" width="7.20" height="7.18" fill="#a88050"/>
<rect x="111.90" y="736.98" width="7.20" height="7.18" fill="#a06a58"/>
<rect x="49.80" y="743.86" width="7.20" height="7.18" fill="#7a4068"/>
<rect x="56.70" y="743.86" width="7.20" height="7.18" fill="#4a2068"/>
<rect x="63.60" y="743.86" width="7.20" height="7.18" fill="#30107a"/>
<rect x="70.50" y="743.86" width="7.20" height="7.18" fill="#30107a"/>
<rect x="77.40" y="743.86" width="7.20" height="7.18" fill="#98106a"/>
<rect x="84.30" y="743.86" width="7.20" height="7.18" fill="#98106a"/>
<rect x="91.20" y="743.86" width="7.20" height="7.18" fill="#a04060"/>
<rect x="98.10" y="743.86" width="7.20" height="7.18" fill="#a05060"/>
<rect x="105.00" y="743.86" width="7.20" height="7.18" fill="#a06060"/>
<rect x="111.90" y="743.86" width="7.20" height="7.18" fill="#a06060"/>
<rect x="49.80" y="750.74" width="7.20" height="7.18" fill="#a07060"/>
<rect x="56.70" y="750.74" width="7.20" height="7.18" fill="#a09060"/>
<rect x="63.60" y="750.74" width="7.20" height="7.18" fill="#7a4070"/>
<rect x="70.50" y="750.74" width="7.20" height="7.18" fill="#4a3080"/>
<rect x="77.40" y="750.74" width="7.20" height="7.18" fill="#28108a"/>
<rect x="84.30" y="750.74" width="7.20" height="7.18" fill="#28108a"/>
<rect x="91.20" y="750.74" width="7.20" height="7.18" fill="#78107a"/>
<rect x="98.10" y="750.74" width="7.20" height="7.18" fill="#90107a"/>
<rect x="105.00" y="750.74" width="7.20" height="7.18" fill="#98206a"/>
<rect x="111.90" y="750.74" width="7.20" height="7.18" fill="#98206a"/>
<rect x="49.80" y="757.62" width="7.20" height="7.18" fill="#a05070"/>
<rect x="56.70" y="757.62" width="7.20" height="7.18" fill="#a02a80"/>
<rect x="63.60" y="757.62" width="7.20" height="7.18" fill="#a06a70"/>
<rect x="70.50" y="757.62" width="7.20" height="7.18" fill="#a05a78"/>
<rect x="77.40" y="757.62" width="7.20" height="7.18" fill="#6a3080"/>
<rect x="84.30" y="757.62" width="7.20" height="7.18" fill="#3a2088"/>
<rect x="91.20" y="757.62" width="7.20" height="7.18" fill="#28108a"/>
<rect x="98.10" y="757.62" width="7.20" height="7.18" fill="#40108a"/>
<rect x="105.00" y="757.62" width="7.20" height="7.18" fill="#901078"/>
<rect x="111.90" y="757.62" width="7.20" height="7.18" fill="#900c70"/>
<line x1="121.5" y1="733" x2="140" y2="733" stroke="#000" stroke-width="2.1"/>
<path d="M147 733 l-9.5 -4.2 v8.4z" fill="#000"/>
<line x1="197.5" y1="733" x2="215.5" y2="733" stroke="#000" stroke-width="2.1"/>
<path d="M222.5 733 l-9.5 -4.2 v8.4z" fill="#000"/>
<line x1="282" y1="733" x2="300.5" y2="733" stroke="#000" stroke-width="2.1"/>
<path d="M307.5 733 l-9.5 -4.2 v8.4z" fill="#000"/>
<line x1="363" y1="731" x2="380.5" y2="731" stroke="#000" stroke-width="2.1"/>
<path d="M387.5 731 l-9.5 -4.2 v8.4z" fill="#000"/>
<line x1="457" y1="731.4" x2="471" y2="731.4" stroke="#000" stroke-width="2.1"/>
<path d="M478 731.4 l-9.5 -4.2 v8.4z" fill="#000"/>
<line x1="551" y1="729.6" x2="566" y2="729.6" stroke="#000" stroke-width="2.1"/>
<path d="M573 729.6 l-9.5 -4.2 v8.4z" fill="#000"/>
<rect x="177.8" y="656.6" width="14.4" height="126.1" fill="#9bbb59" stroke="#4f6228" stroke-width="0.7"/>
<rect x="174" y="661.6" width="14.2" height="126.9" fill="#9bbb59" stroke="#4f6228" stroke-width="0.7"/>
<line x1="164.5" y1="674.5" x2="172" y2="667.5" stroke="#000" stroke-width="2.3" stroke-linecap="round" stroke-dasharray="0.1 3.3"/>
<line x1="170.5" y1="798.5" x2="178" y2="791.5" stroke="#000" stroke-width="2.3" stroke-linecap="round" stroke-dasharray="0.1 3.3"/>
<rect x="155.7" y="677.5" width="14.1" height="126.5" fill="#9bbb59" stroke="#4f6228" stroke-width="0.7"/>
<rect x="147.6" y="683" width="14.1" height="127.0" fill="#9bbb59" stroke="#4f6228" stroke-width="0.7"/>
<rect x="258.2" y="658" width="14.4" height="126.0" fill="#9bbb59" stroke="#4f6228" stroke-width="0.7"/>
<rect x="254.3" y="663" width="14.3" height="126.6" fill="#9bbb59" stroke="#4f6228" stroke-width="0.7"/>
<line x1="245" y1="676" x2="252.5" y2="669" stroke="#000" stroke-width="2.3" stroke-linecap="round" stroke-dasharray="0.1 3.3"/>
<line x1="251" y1="799.5" x2="258.5" y2="792.5" stroke="#000" stroke-width="2.3" stroke-linecap="round" stroke-dasharray="0.1 3.3"/>
<rect x="235.5" y="679.4" width="14.5" height="125.6" fill="#9bbb59" stroke="#4f6228" stroke-width="0.7"/>
<rect x="227.6" y="685" width="14.4" height="126.0" fill="#9bbb59" stroke="#4f6228" stroke-width="0.7"/>
<rect x="343.3" y="679" width="14.3" height="79.5" fill="#9bbb59" stroke="#4f6228" stroke-width="0.7"/>
<rect x="339.3" y="682" width="14.0" height="80.0" fill="#9bbb59" stroke="#4f6228" stroke-width="0.7"/>
<line x1="329" y1="690" x2="337.5" y2="685" stroke="#000" stroke-width="2.3" stroke-linecap="round" stroke-dasharray="0.1 3.3"/>
<line x1="335" y1="768" x2="341.5" y2="763" stroke="#000" stroke-width="2.3" stroke-linecap="round" stroke-dasharray="0.1 3.3"/>
<rect x="320" y="692.6" width="14.4" height="79.4" fill="#9bbb59" stroke="#4f6228" stroke-width="0.7"/>
<rect x="312.3" y="696" width="14.3" height="79.3" fill="#9bbb59" stroke="#4f6228" stroke-width="0.7"/>
<rect x="440.3" y="671" width="14.7" height="79.6" fill="#d99694" stroke="#7a3d3b" stroke-width="0.7"/>
<rect x="432.8" y="674" width="14.6" height="80.0" fill="#d99694" stroke="#7a3d3b" stroke-width="0.7"/>
<rect x="426" y="678" width="14.8" height="80.0" fill="#d99694" stroke="#7a3d3b" stroke-width="0.7"/>
<line x1="415" y1="686.5" x2="424" y2="681.5" stroke="#000" stroke-width="2.3" stroke-linecap="round" stroke-dasharray="0.1 3.3"/>
<line x1="422" y1="764.5" x2="428.5" y2="760" stroke="#000" stroke-width="2.3" stroke-linecap="round" stroke-dasharray="0.1 3.3"/>
<rect x="406" y="688.7" width="15.0" height="79.7" fill="#d99694" stroke="#7a3d3b" stroke-width="0.7"/>
<rect x="398.2" y="692.6" width="14.8" height="79.4" fill="#d99694" stroke="#7a3d3b" stroke-width="0.7"/>
<rect x="390.5" y="698" width="14.8" height="79.7" fill="#d99694" stroke="#7a3d3b" stroke-width="0.7"/>
<rect x="532.6" y="672.7" width="14.0" height="79.6" fill="#d99694" stroke="#7a3d3b" stroke-width="0.7"/>
<rect x="525.6" y="676" width="14.0" height="80.0" fill="#d99694" stroke="#7a3d3b" stroke-width="0.7"/>
<rect x="518.6" y="680" width="14.0" height="80.3" fill="#d99694" stroke="#7a3d3b" stroke-width="0.7"/>
<line x1="508" y1="688.5" x2="517" y2="683" stroke="#000" stroke-width="2.3" stroke-linecap="round" stroke-dasharray="0.1 3.3"/>
<line x1="514" y1="767" x2="520.5" y2="762.5" stroke="#000" stroke-width="2.3" stroke-linecap="round" stroke-dasharray="0.1 3.3"/>
<rect x="499.2" y="690.5" width="13.4" height="80.5" fill="#d99694" stroke="#7a3d3b" stroke-width="0.7"/>
<rect x="491" y="694.7" width="14.2" height="79.3" fill="#d99694" stroke="#7a3d3b" stroke-width="0.7"/>
<rect x="483.3" y="700" width="14.1" height="80.0" fill="#d99694" stroke="#7a3d3b" stroke-width="0.7"/>
<path d="M632.5 695.5 L676.8 606.5 V813 L632.5 729.3z" fill="url(#fanG)"/>
<rect x="618.5" y="695.4" width="14.3" height="33.9" fill="#d99694" stroke="#7a3d3b" stroke-width="0.7"/>
<rect x="611.2" y="697.5" width="14.8" height="33.5" fill="#d99694" stroke="#7a3d3b" stroke-width="0.7"/>
<rect x="604.2" y="700" width="14.4" height="33.2" fill="#d99694" stroke="#7a3d3b" stroke-width="0.7"/>
<line x1="596.5" y1="708.5" x2="603.5" y2="703.5" stroke="#000" stroke-width="2.3" stroke-linecap="round" stroke-dasharray="0.1 3.3"/>
<line x1="603" y1="741" x2="608" y2="736.5" stroke="#000" stroke-width="2.3" stroke-linecap="round" stroke-dasharray="0.1 3.3"/>
<rect x="588.5" y="709.7" width="14.0" height="33.3" fill="#d99694" stroke="#7a3d3b" stroke-width="0.7"/>
<rect x="583" y="711.5" width="14.2" height="33.7" fill="#d99694" stroke="#7a3d3b" stroke-width="0.7"/>
<rect x="576.2" y="714.6" width="14.4" height="33.6" fill="#d99694" stroke="#7a3d3b" stroke-width="0.7"/>
<g font-size="12.4" text-anchor="middle" style="fill:#222">
<text x="170.5" y="647.0" font-size="11.2" style="fill:#222">(32,2*2)</text>
<text x="169" y="828.4" style="fill:#222">Conv2D</text>
<text x="252.6" y="828.4" style="fill:#222">Normalization</text>
<text x="336.6" y="795.9" style="fill:#222">Maxpooling</text>
<text x="427.6" y="662.0" font-size="11.2" style="fill:#222">(64,3*3)</text>
<text x="423" y="795.9" style="fill:#222">Conv2D</text>
<text x="515.6" y="795.4" style="fill:#222">Normalization</text>
<text x="604" y="764.3" style="fill:#222">Averagepooling</text>
<text x="754" y="797.9" style="fill:#222">Output</text>
<text x="695.5" y="844.6999999999999" style="fill:#222">Dense</text>
</g>
<g stroke="#111" stroke-width="0.7" opacity="0.9">
<line x1="704.6" y1="598.4" x2="743.2" y2="657"/>
<line x1="704.6" y1="598.4" x2="743.2" y2="695"/>
<line x1="704.6" y1="598.4" x2="743.2" y2="733.5"/>
<line x1="704.6" y1="598.4" x2="743.2" y2="770.5"/>
<line x1="704.6" y1="622.4" x2="743.2" y2="657"/>
<line x1="704.6" y1="622.4" x2="743.2" y2="695"/>
<line x1="704.6" y1="622.4" x2="743.2" y2="733.5"/>
<line x1="704.6" y1="622.4" x2="743.2" y2="770.5"/>
<line x1="704.6" y1="646.8" x2="743.2" y2="657"/>
<line x1="704.6" y1="646.8" x2="743.2" y2="695"/>
<line x1="704.6" y1="646.8" x2="743.2" y2="733.5"/>
<line x1="704.6" y1="646.8" x2="743.2" y2="770.5"/>
<line x1="704.6" y1="671.0" x2="743.2" y2="657"/>
<line x1="704.6" y1="671.0" x2="743.2" y2="695"/>
<line x1="704.6" y1="671.0" x2="743.2" y2="733.5"/>
<line x1="704.6" y1="671.0" x2="743.2" y2="770.5"/>
<line x1="704.6" y1="748.2" x2="743.2" y2="657"/>
<line x1="704.6" y1="748.2" x2="743.2" y2="695"/>
<line x1="704.6" y1="748.2" x2="743.2" y2="733.5"/>
<line x1="704.6" y1="748.2" x2="743.2" y2="770.5"/>
<line x1="704.6" y1="772.3" x2="743.2" y2="657"/>
<line x1="704.6" y1="772.3" x2="743.2" y2="695"/>
<line x1="704.6" y1="772.3" x2="743.2" y2="733.5"/>
<line x1="704.6" y1="772.3" x2="743.2" y2="770.5"/>
<line x1="704.6" y1="796.8" x2="743.2" y2="657"/>
<line x1="704.6" y1="796.8" x2="743.2" y2="695"/>
<line x1="704.6" y1="796.8" x2="743.2" y2="733.5"/>
<line x1="704.6" y1="796.8" x2="743.2" y2="770.5"/>
<line x1="704.6" y1="820.5" x2="743.2" y2="657"/>
<line x1="704.6" y1="820.5" x2="743.2" y2="695"/>
<line x1="704.6" y1="820.5" x2="743.2" y2="733.5"/>
<line x1="704.6" y1="820.5" x2="743.2" y2="770.5"/>
</g>
<rect x="686" y="590" width="18.5" height="16.7" fill="#ccc1da"/>
<rect x="686" y="613.7" width="18.5" height="17.3" fill="#ccc1da"/>
<rect x="686" y="638" width="18.5" height="17.6" fill="#ccc1da"/>
<rect x="686" y="662.6" width="18.5" height="16.8" fill="#ccc1da"/>
<rect x="686" y="739.4" width="18.5" height="17.6" fill="#ccc1da"/>
<rect x="686" y="763.9" width="18.5" height="16.9" fill="#ccc1da"/>
<rect x="686" y="788.3" width="18.5" height="16.9" fill="#ccc1da"/>
<rect x="686" y="812" width="18.5" height="17.0" fill="#ccc1da"/>
<circle cx="695.3" cy="688.6" r="2.3" fill="#000"/>
<circle cx="695.3" cy="696.5" r="2.3" fill="#000"/>
<circle cx="695.3" cy="704.4" r="2.3" fill="#000"/>
<circle cx="695.3" cy="712.3" r="2.3" fill="#000"/>
<circle cx="695.3" cy="720.2" r="2.3" fill="#000"/>
<circle cx="695.3" cy="728.1" r="2.3" fill="#000"/>
<circle cx="753.8" cy="657" r="10.6" fill="#ff0000" stroke="#222" stroke-width="0.7"/>
<circle cx="753.8" cy="695" r="10.6" fill="#ffff00" stroke="#222" stroke-width="0.7"/>
<circle cx="753.8" cy="733.5" r="10.6" fill="#00b050" stroke="#222" stroke-width="0.7"/>
<circle cx="753.8" cy="770.5" r="10.6" fill="#0070c0" stroke="#222" stroke-width="0.7"/>
</g>
<!-- gradient arrows -->
<g id="arrows">
  <defs>
    <linearGradient id="arV" gradientUnits="userSpaceOnUse" x1="219" y1="223" x2="230" y2="352">
      <stop offset="0" stop-color="#f3effb"/><stop offset="0.35" stop-color="#e2d5f8"/><stop offset="0.8" stop-color="#cba6f4"/><stop offset="1" stop-color="#c597f2"/>
    </linearGradient>
    <linearGradient id="arD" gradientUnits="userSpaceOnUse" x1="437" y1="268" x2="244" y2="422">
      <stop offset="0" stop-color="#f6f5fc"/><stop offset="0.3" stop-color="#ebe4fa"/><stop offset="0.7" stop-color="#d3b8f6"/><stop offset="1" stop-color="#c597f2"/>
    </linearGradient>
    <linearGradient id="arB" gradientUnits="userSpaceOnUse" x1="419" y1="501" x2="350" y2="473">
      <stop offset="0" stop-color="#f5f2fd"/><stop offset="0.4" stop-color="#e2d3f9"/><stop offset="0.8" stop-color="#cba4f5"/><stop offset="1" stop-color="#c597f2"/>
    </linearGradient>
    <linearGradient id="arS" gradientUnits="userSpaceOnUse" x1="944" y1="674" x2="960" y2="620">
      <stop offset="0" stop-color="#e8f3fd"/><stop offset="0.4" stop-color="#b5daf7"/><stop offset="0.8" stop-color="#62b3ec"/><stop offset="1" stop-color="#3fa2e6"/>
    </linearGradient>
  </defs>
  <path id="arrowV" d="M212.7 223.5 H225.9 L233.2 331 H240.4 L230 352.6 L216.5 331 H220.9 Z" fill="url(#arV)"/>
  <path id="arrowD" d="M243.8 422.1 L253.1 397.4 L256.6 401.9 L431.2 264.5 L438.6 273.9 L264 411.3 L267.5 415.8 Z" fill="url(#arD)"/>
  <path id="arrowB" d="M350.1 473.3 L373.1 471.6 L372.3 477.4 L420.2 496.4 L415.9 506.3 L367.4 487.2 L364.5 491.7 Z" fill="url(#arB)"/>
  <path id="arrowS" d="M959.8 620 L965 642.5 L959.2 641.5 L950.7 674.7 L938.9 671.3 L949 638 L943.3 636.8 Z" fill="url(#arS)"/>
</g>
<!-- servers + clouds -->
<g id="servers">
  <defs>
    <linearGradient id="svSide" x1="0" x2="1" y1="0" y2="0"><stop offset="0" stop-color="#f4f4f4"/><stop offset="0.25" stop-color="#e0e0e0"/><stop offset="0.55" stop-color="#bdbdbd"/><stop offset="0.8" stop-color="#dcdcdc"/><stop offset="1" stop-color="#c4c4c4"/></linearGradient>
    <linearGradient id="svFront" x1="0" x2="1" y1="0" y2="0"><stop offset="0" stop-color="#b4b4b4"/><stop offset="0.3" stop-color="#f0f0f0"/><stop offset="0.55" stop-color="#d0d0d0"/><stop offset="0.8" stop-color="#a9a9a9"/><stop offset="1" stop-color="#c8c8c8"/></linearGradient>
    <linearGradient id="svTop" x1="0" x2="0" y1="0" y2="1"><stop offset="0" stop-color="#e2e2e2"/><stop offset="1" stop-color="#f6f6f6"/></linearGradient>
    <linearGradient id="st1" x1="0" x2="1" y1="0" y2="0"><stop offset="0" stop-color="#8a2fb0"/><stop offset="0.4" stop-color="#d060e8"/><stop offset="1" stop-color="#9a38c8"/></linearGradient>
    <linearGradient id="st2" x1="0" x2="1" y1="0" y2="0"><stop offset="0" stop-color="#7a32c0"/><stop offset="0.4" stop-color="#b070f0"/><stop offset="1" stop-color="#8040d8"/></linearGradient>
    <linearGradient id="st3" x1="0" x2="1" y1="0" y2="0"><stop offset="0" stop-color="#5a3cc8"/><stop offset="0.4" stop-color="#9080f4"/><stop offset="1" stop-color="#6a50e0"/></linearGradient>
    <linearGradient id="st4" x1="0" x2="1" y1="0" y2="0"><stop offset="0" stop-color="#3a4cd0"/><stop offset="0.4" stop-color="#7a9af8"/><stop offset="1" stop-color="#4a60e4"/></linearGradient>
    <linearGradient id="clB" x1="0" x2="1" y1="0" y2="1"><stop offset="0" stop-color="#5aa2ff"/><stop offset="0.5" stop-color="#3d88fa"/><stop offset="1" stop-color="#1f62ea"/></linearGradient>
    <linearGradient id="clBe" x1="0" x2="1" y1="0" y2="0"><stop offset="0" stop-color="#8fc0ff"/><stop offset="1" stop-color="#a9cfff"/></linearGradient>
    <linearGradient id="clI" x1="0" x2="1" y1="0" y2="1"><stop offset="0" stop-color="#5660dc"/><stop offset="0.6" stop-color="#4a4fc8"/><stop offset="1" stop-color="#3d42b4"/></linearGradient>
    <linearGradient id="clP" x1="0" x2="1" y1="0" y2="1"><stop offset="0" stop-color="#9a58c8"/><stop offset="0.6" stop-color="#8546b4"/><stop offset="1" stop-color="#6f3a9c"/></linearGradient>
    <filter id="sb10" x="-20%" y="-50%" width="140%" height="200%"><feGaussianBlur stdDeviation="12"/></filter>
    <path id="cloudB" d="M185 700 C185 655 215 640 232 640 C232 600 270 580 310 598 C330 560 380 545 420 555 C470 568 478 620 470 640 C520 640 548 675 548 715 C548 760 520 790 480 790 L245 770 C210 765 185 740 185 700 Z"/>
    <path id="cloudI" d="M415 560 C440 520 520 515 545 570 C580 548 640 565 640 620 C690 625 700 690 690 720 C680 760 650 772 620 772 L520 760 L470 640 C478 620 470 585 415 560 Z"/>
    <path id="cloudP" d="M742 485 C790 480 825 520 815 575 C860 575 885 620 878 660 C870 705 830 722 800 718 L742 700 Z"/>
  </defs>
  <g transform="translate(780,580) scale(0.33806)">
    <!-- ground shadow -->
    <ellipse cx="600" cy="775" rx="330" ry="30" fill="#cfcfd6" opacity="0.55" filter="url(#sb10)"/>
    <!-- purple cloud (back) -->
    <use href="#cloudP" transform="translate(-9,3)" fill="#b88adc"/>
    <use href="#cloudP" fill="url(#clP)"/>
    <path d="M742 485 C752 484 762 485 770 488 L770 708 L742 700 Z" fill="#a878d0" opacity="0.8"/>
    <!-- tall server -->
    <polygon points="440,316 600,300 737,322 570,336" fill="url(#svTop)"/>
    <polygon points="440,316 570,336 570,716 440,640" fill="url(#svSide)"/>
    <polygon points="570,336 737,322 740,716 570,716" fill="#4a4a4a"/>
    <rect x="577" y="340" width="147" height="370" fill="url(#svFront)"/>
    <rect x="577" y="388" width="147" height="17" fill="url(#st1)"/>
    <rect x="577" y="427" width="147" height="17" fill="url(#st2)"/>
    <rect x="577" y="466" width="147" height="17" fill="url(#st3)"/>
    <rect x="577" y="506" width="147" height="17" fill="url(#st4)"/>
    <rect x="728" y="330" width="10" height="386" fill="#d8d8d8"/>
    <g stroke="#9a9a9a" stroke-width="2"><line x1="566" y1="510" x2="566" y2="560" stroke-dasharray="2 3"/></g>
    <!-- small server -->
    <polygon points="283,393 400,380 520,400 386,413" fill="url(#svTop)"/>
    <polygon points="283,393 386,413 386,640 283,600" fill="url(#svSide)"/>
    <polygon points="386,413 520,400 522,640 386,640" fill="#4a4a4a"/>
    <rect x="392" y="410" width="122" height="230" fill="url(#svFront)"/>
    <rect x="392" y="450" width="122" height="15" fill="url(#st1)"/>
    <rect x="392" y="482" width="122" height="15" fill="url(#st2)"/>
    <rect x="392" y="513" width="122" height="15" fill="url(#st4)"/>
    <!-- indigo cloud -->
    <use href="#cloudI" transform="translate(9,-4)" fill="#8a8cf0"/>
    <use href="#cloudI" fill="url(#clI)"/>
    <!-- blue cloud (front) -->
    <use href="#cloudB" transform="translate(9,-5)" fill="url(#clBe)"/>
    <use href="#cloudB" fill="url(#clB)"/>
  </g>
</g>
<!-- outer border -->
<rect x="14" y="8.5" width="1114.5" height="853.5" rx="12" ry="12" fill="none" stroke="#000" stroke-width="2.2"/>
</svg>
</body></html>
